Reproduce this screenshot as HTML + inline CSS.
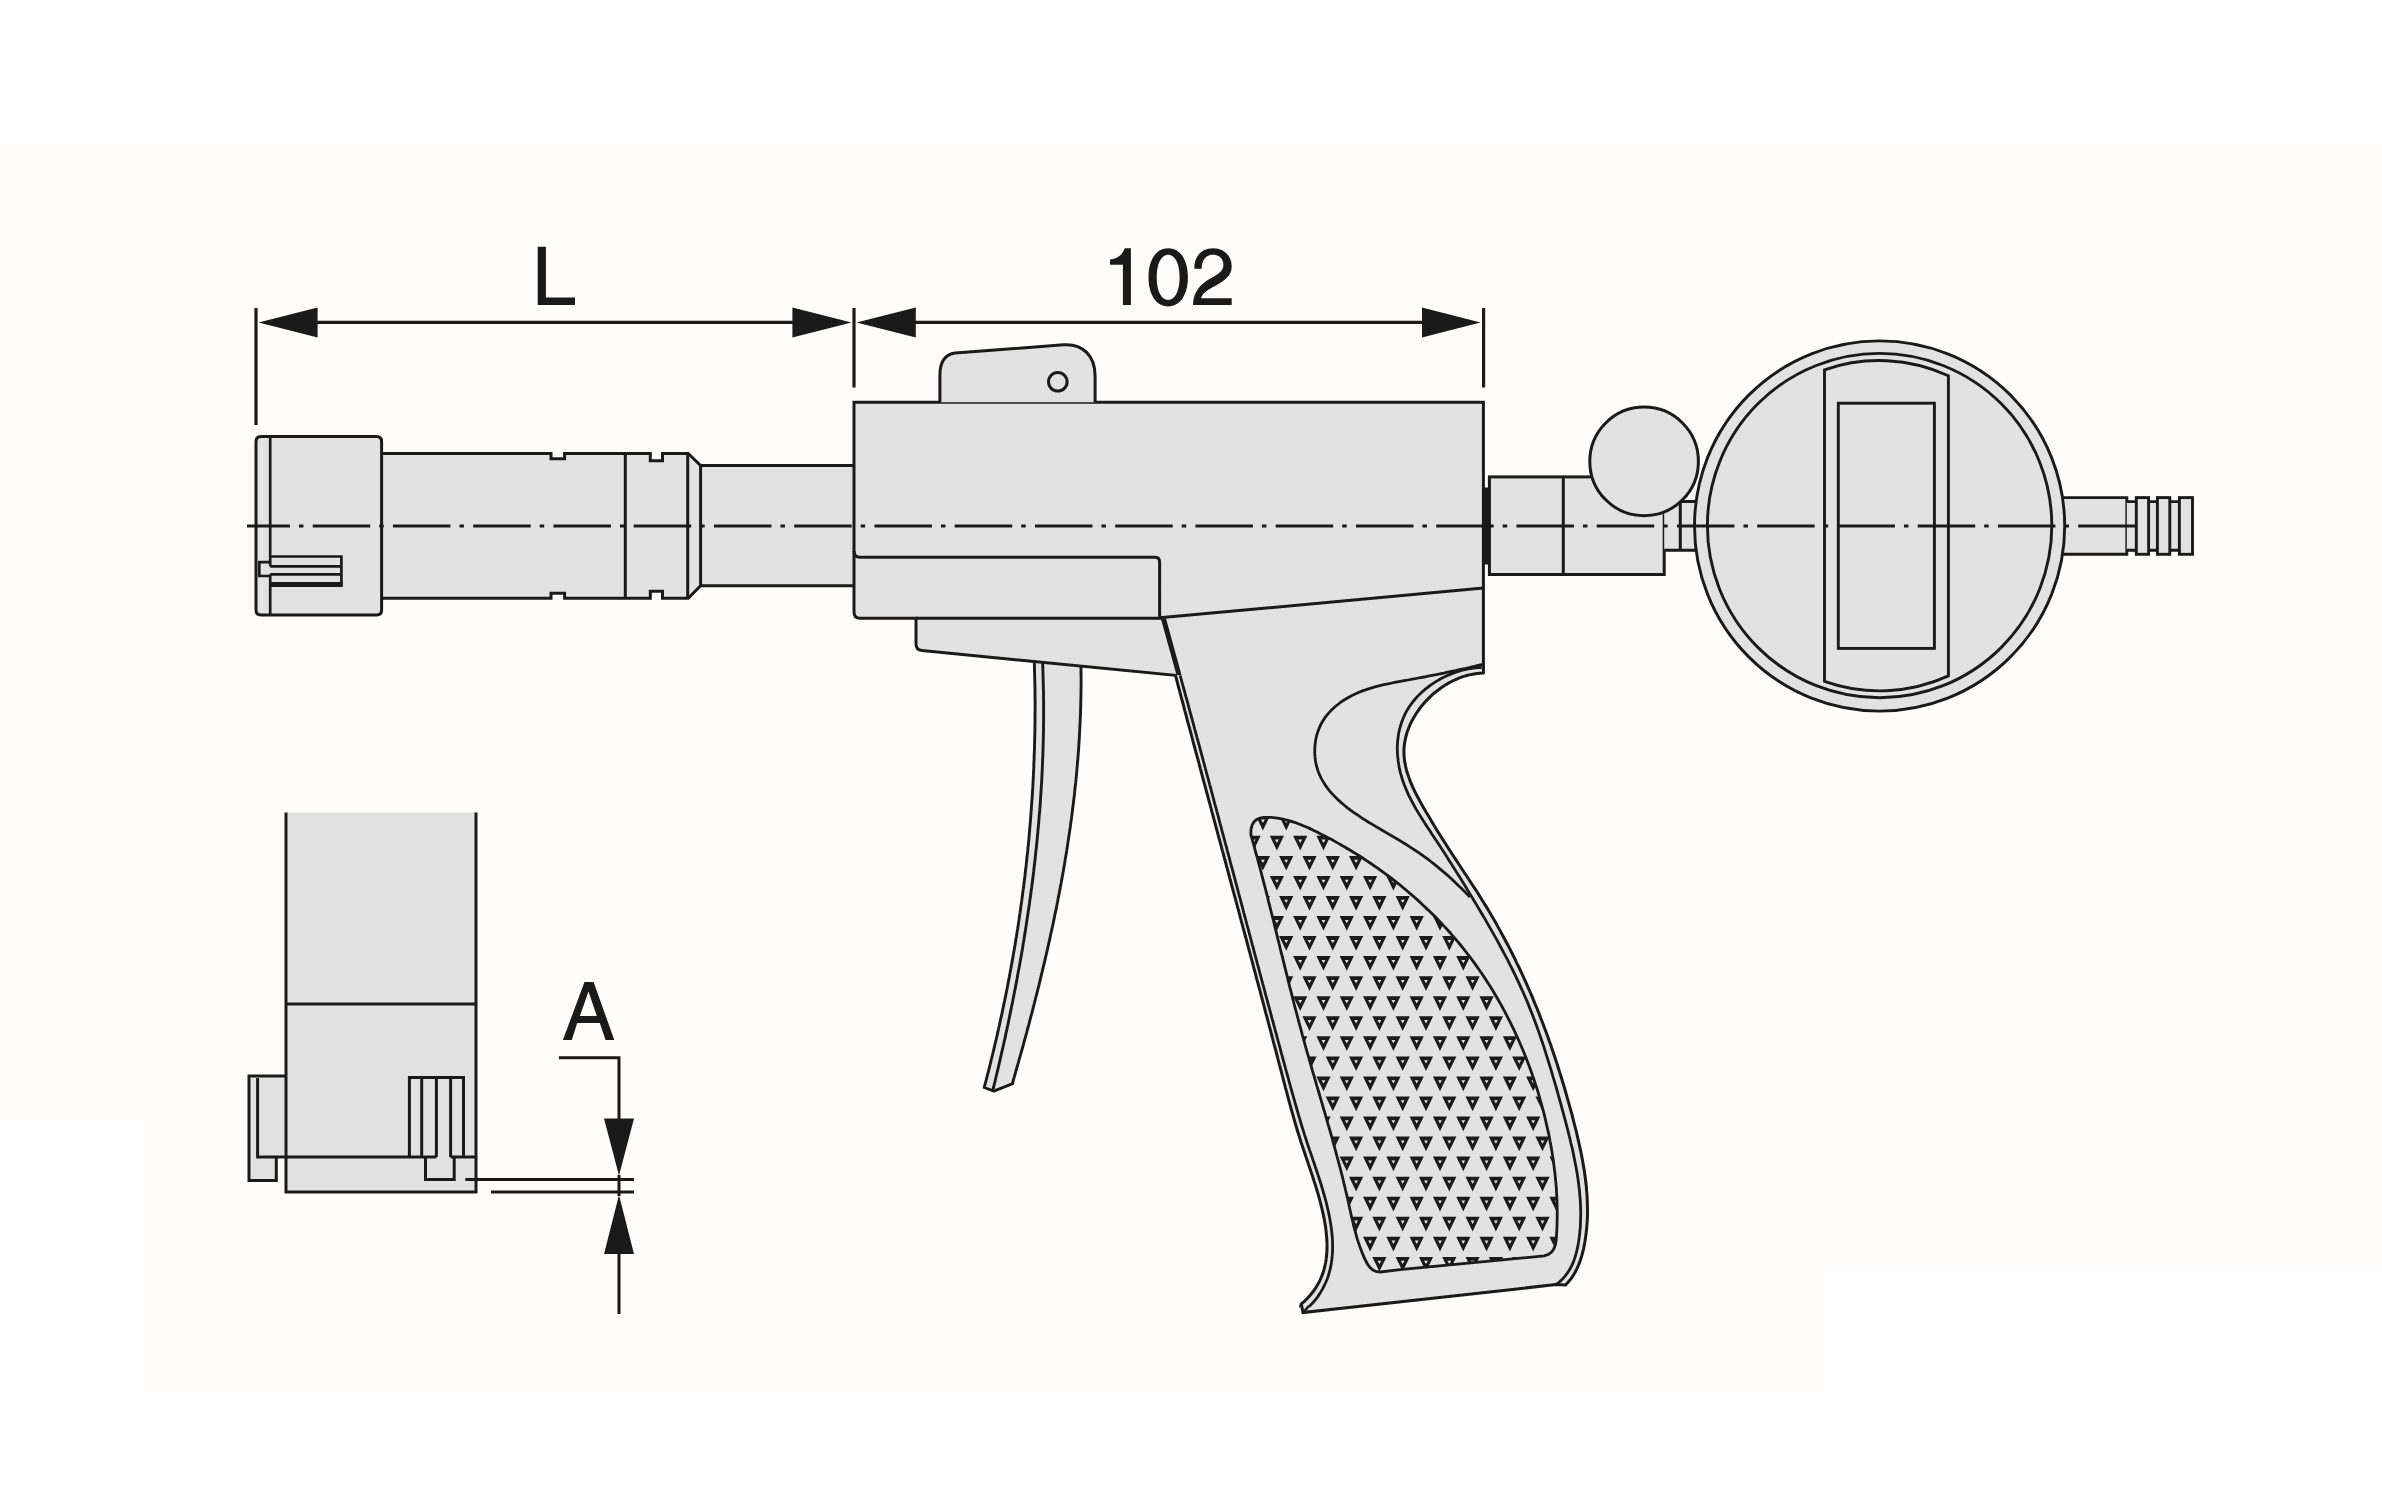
<!DOCTYPE html>
<html><head><meta charset="utf-8"><style>
html,body{margin:0;padding:0;background:#fff;overflow:hidden;font-family:"Liberation Sans",sans-serif;}
svg{display:block;}
</style></head><body><svg width="2382" height="1486" viewBox="0 0 2382 1486"><rect x="0" y="0" width="2382" height="1486" fill="#ffffff"/>
<path d="M0 145 H2382 V1265 H1824 V1392 H146 V1118 H0 Z" fill="#fefdfb"/>
<path d="M256 308 V425 M854 308 V387.5 M1483.6 308 V387.5 M300 322.4 H820 M890 322.4 H1450" stroke="#1b1a1a" stroke-width="3.2" fill="none"/>
<path d="M258.5 322.4 L317.6 307.4 L317.6 337.4 Z M851.5 322.4 L792.4 307.4 L792.4 337.4 Z M856.5 322.4 L915.8 307.4 L915.8 337.4 Z M1480.6 322.4 L1422 307.4 L1422 337.4 Z" fill="#1b1a1a"/>
<path d="M537.7 246.8 H545.9 V297.6 H575 V305 H537.7 Z M1110 259.4 C1116.5 259.4 1122 255.5 1124.8 248.2 H1130.9 V304.9 H1122.9 V264.7 H1110 Z M1168.2 248.2 C1181 248.2 1187.9 261 1187.9 277.3 C1187.9 293.6 1181 306.4 1168.2 306.4 C1155.4 306.4 1148.5 293.6 1148.5 277.3 C1148.5 261 1155.4 248.2 1168.2 248.2 Z M1168.2 254.7 C1161 254.7 1156.7 264 1156.7 277.3 C1156.7 290.6 1161 300 1168.2 300 C1175.4 300 1179.6 290.6 1179.6 277.3 C1179.6 264 1175.4 254.7 1168.2 254.7 Z M1194.3 268.8 C1194 257 1201 248.2 1213.1 248.2 C1224 248.2 1231.7 256 1231.7 266.4 C1231.7 276 1224 281 1213 287 C1206 291 1202 294 1201.1 298.2 H1231.7 V304.9 H1192.9 C1193.5 292 1200 284 1212 277.5 C1220 273 1223.4 270 1223.4 264.7 C1223.4 258.5 1219 254.7 1213.1 254.7 C1205.5 254.7 1201.7 260.5 1201.7 268.8 Z M562.9 1040 L584.5 982.1 H593.6 L614.3 1040 H605.5 L599.8 1023 H577.2 L571.8 1040 Z M588.5 991.5 L579.9 1016 H596.8 Z" fill="#1b1a1a" fill-rule="evenodd"/>
<path d="M370 453.4 H551 V458.7 H564.6 V453.4 H650.3 V460.7 H662.5 V453.4 H688.2 L700.6 465.5 H860 V585.7 H700.6 L688.2 598.2 H662.5 V591.2 H650.3 V598.2 H564.6 V593.2 H551 V598.2 H370 Z" fill="#e2e2e3" stroke="#1b1a1a" stroke-width="3"/>
<path d="M625.3 453.4 V598.2 M687.7 453.4 V598.2 M700.6 465.5 V585.7" stroke="#1b1a1a" stroke-width="3" fill="none"/>
<path d="M261 436.5 H376.6 Q381.6 436.5 381.6 441.5 V610 Q381.6 615 376.6 615 H261 Q256 615 256 610 V441.5 Q256 436.5 261 436.5 Z" fill="#e2e2e3" stroke="#1b1a1a" stroke-width="3" stroke-linejoin="round"/>
<path d="M270.2 436.5 V566.3 M270.2 574.3 V615 M270.2 556.5 H341.4 V584.5 M270.2 566.3 H341.4 M270.2 574.3 H341.4 M270.2 562.2 H259.3 V576 H270.2" stroke="#1b1a1a" stroke-width="2.7" fill="none"/>
<path d="M270.2 584.5 H342.8" stroke="#1b1a1a" stroke-width="5" fill="none"/>
<path d="M1033.6 644.9 L1033.8 649.0 L1034.0 653.1 L1034.1 657.2 L1034.3 661.2 L1034.4 665.3 L1034.5 669.4 L1034.6 673.5 L1034.7 677.5 L1034.8 681.6 L1034.9 685.7 L1035.0 689.7 L1035.0 693.8 L1035.0 697.9 L1035.1 701.9 L1035.1 706.0 L1035.1 710.1 L1035.0 714.2 L1035.0 718.2 L1035.0 722.3 L1034.9 726.4 L1034.9 730.4 L1034.8 734.5 L1034.7 738.5 L1034.6 742.6 L1034.5 746.7 L1034.4 750.7 L1034.2 754.8 L1034.1 758.9 L1033.9 762.9 L1033.8 767.0 L1033.6 771.0 L1033.4 775.1 L1033.2 779.1 L1033.0 783.2 L1032.8 787.3 L1032.5 791.3 L1032.3 795.4 L1032.0 799.4 L1031.7 803.5 L1031.4 807.5 L1031.1 811.6 L1030.8 815.6 L1030.5 819.7 L1030.2 823.7 L1029.8 827.8 L1029.5 831.8 L1029.1 835.8 L1028.8 839.9 L1028.4 843.9 L1028.0 848.0 L1027.6 852.0 L1027.1 856.0 L1026.7 860.1 L1026.3 864.1 L1025.8 868.1 L1025.3 872.2 L1024.9 876.2 L1024.4 880.2 L1023.9 884.3 L1023.4 888.3 L1022.8 892.3 L1022.3 896.3 L1021.8 900.4 L1021.2 904.4 L1020.6 908.4 L1020.1 912.4 L1019.5 916.4 L1018.9 920.5 L1018.3 924.5 L1017.7 928.5 L1017.0 932.5 L1016.4 936.5 L1015.7 940.5 L1015.1 944.5 L1014.4 948.5 L1013.7 952.5 L1013.0 956.5 L1012.3 960.5 L1011.6 964.5 L1010.9 968.5 L1010.1 972.5 L1009.4 976.5 L1008.6 980.5 L1007.8 984.5 L1007.1 988.5 L1006.3 992.5 L1005.5 996.4 L1004.7 1000.4 L1003.8 1004.4 L1003.0 1008.4 L1002.2 1012.4 L1001.3 1016.3 L1000.4 1020.3 L999.6 1024.3 L998.7 1028.3 L997.8 1032.2 L996.9 1036.2 L996.0 1040.1 L995.0 1044.1 L994.1 1048.1 L993.2 1052.0 L992.2 1056.0 L991.2 1059.9 L990.3 1063.9 L989.3 1067.8 L988.3 1071.8 L987.3 1075.7 L986.3 1079.7 L985.2 1083.6 L984.2 1087.5 L993.8 1091.1 L1012.7 1083.7 L1012.4 1083.6 L1013.5 1079.7 L1014.6 1075.8 L1015.7 1071.9 L1016.8 1068.0 L1017.9 1064.1 L1019.0 1060.2 L1020.1 1056.3 L1021.2 1052.4 L1022.3 1048.5 L1023.4 1044.6 L1024.4 1040.7 L1025.5 1036.8 L1026.6 1032.9 L1027.6 1029.0 L1028.7 1025.1 L1029.7 1021.1 L1030.7 1017.2 L1031.8 1013.3 L1032.8 1009.4 L1033.8 1005.5 L1034.8 1001.5 L1035.8 997.6 L1036.8 993.7 L1037.8 989.7 L1038.8 985.8 L1039.7 981.9 L1040.7 977.9 L1041.6 974.0 L1042.6 970.0 L1043.5 966.1 L1044.5 962.1 L1045.4 958.2 L1046.3 954.2 L1047.2 950.3 L1048.1 946.3 L1049.0 942.4 L1049.9 938.4 L1050.7 934.5 L1051.6 930.5 L1052.5 926.5 L1053.3 922.6 L1054.1 918.6 L1054.9 914.6 L1055.8 910.7 L1056.6 906.7 L1057.4 902.7 L1058.1 898.7 L1058.9 894.8 L1059.7 890.8 L1060.4 886.8 L1061.2 882.8 L1061.9 878.8 L1062.6 874.9 L1063.3 870.9 L1064.0 866.9 L1064.7 862.9 L1065.3 858.9 L1066.0 854.9 L1066.7 850.9 L1067.3 846.9 L1067.9 842.9 L1068.5 838.9 L1069.1 834.9 L1069.7 830.9 L1070.3 826.9 L1070.8 822.9 L1071.4 818.9 L1071.9 814.9 L1072.4 810.8 L1072.9 806.8 L1073.4 802.8 L1073.9 798.8 L1074.4 794.8 L1074.8 790.7 L1075.2 786.7 L1075.7 782.7 L1076.1 778.7 L1076.5 774.6 L1076.8 770.6 L1077.2 766.6 L1077.5 762.6 L1077.9 758.5 L1078.2 754.5 L1078.5 750.4 L1078.8 746.4 L1079.0 742.4 L1079.3 738.3 L1079.5 734.3 L1079.7 730.2 L1079.9 726.2 L1080.1 722.1 L1080.3 718.1 L1080.5 714.0 L1080.6 710.0 L1080.7 705.9 L1080.8 701.9 L1080.9 697.8 L1081.0 693.7 L1081.0 689.7 L1081.1 685.6 L1081.1 681.6 L1081.1 677.5 L1081.0 673.4 L1081.0 669.4 L1080.9 665.3 L1080.9 661.2 L1080.8 657.1 L1080.7 653.1 L1080.5 649.0 L1080.4 644.9 Z" fill="#e2e2e3" stroke="#1b1a1a" stroke-width="2.9" stroke-linejoin="round"/>
<path d="M1041.8 644.9 L1042.0 649.0 L1042.2 653.0 L1042.4 657.1 L1042.6 661.2 L1042.7 665.2 L1042.9 669.3 L1043.0 673.3 L1043.1 677.4 L1043.2 681.5 L1043.3 685.5 L1043.4 689.6 L1043.5 693.6 L1043.5 697.7 L1043.6 701.7 L1043.6 705.8 L1043.6 709.8 L1043.6 713.9 L1043.6 717.9 L1043.6 722.0 L1043.5 726.0 L1043.5 730.1 L1043.4 734.1 L1043.3 738.2 L1043.2 742.2 L1043.1 746.3 L1043.0 750.3 L1042.9 754.3 L1042.7 758.4 L1042.5 762.4 L1042.4 766.5 L1042.2 770.5 L1042.0 774.6 L1041.8 778.6 L1041.6 782.6 L1041.3 786.7 L1041.1 790.7 L1040.8 794.7 L1040.5 798.8 L1040.3 802.8 L1040.0 806.8 L1039.7 810.9 L1039.3 814.9 L1039.0 818.9 L1038.7 822.9 L1038.3 827.0 L1037.9 831.0 L1037.6 835.0 L1037.2 839.0 L1036.8 843.1 L1036.4 847.1 L1035.9 851.1 L1035.5 855.1 L1035.1 859.1 L1034.6 863.2 L1034.1 867.2 L1033.7 871.2 L1033.2 875.2 L1032.7 879.2 L1032.2 883.2 L1031.7 887.2 L1031.1 891.2 L1030.6 895.2 L1030.0 899.3 L1029.5 903.3 L1028.9 907.3 L1028.3 911.3 L1027.7 915.3 L1027.1 919.3 L1026.5 923.3 L1025.9 927.3 L1025.3 931.2 L1024.6 935.2 L1024.0 939.2 L1023.3 943.2 L1022.7 947.2 L1022.0 951.2 L1021.3 955.2 L1020.6 959.2 L1019.9 963.2 L1019.2 967.1 L1018.4 971.1 L1017.7 975.1 L1017.0 979.1 L1016.2 983.1 L1015.5 987.0 L1014.7 991.0 L1013.9 995.0 L1013.1 999.0 L1012.4 1002.9 L1011.5 1006.9 L1010.7 1010.9 L1009.9 1014.8 L1009.1 1018.8 L1008.3 1022.7 L1007.4 1026.7 L1006.6 1030.7 L1005.7 1034.6 L1004.9 1038.6 L1004.0 1042.5 L1003.1 1046.5 L1002.2 1050.4 L1001.3 1054.4 L1000.4 1058.3 L999.5 1062.3 L998.6 1066.2 L997.7 1070.2 L996.7 1074.1 L995.8 1078.0 L994.9 1082.0 L993.9 1085.9 L992.9 1089.8" stroke="#1b1a1a" stroke-width="2.9" fill="none"/>
<path d="M854 402.2 H1483.4 V672.9 L1483.2 673.0 L1479.3 673.2 L1475.4 673.7 L1471.5 674.4 L1467.6 675.3 L1463.8 676.4 L1460.0 677.7 L1456.2 679.3 L1452.5 681.0 L1448.9 682.9 L1445.4 685.0 L1441.9 687.3 L1438.6 689.7 L1435.3 692.2 L1432.1 694.9 L1429.1 697.8 L1426.2 700.7 L1423.5 703.8 L1420.8 707.0 L1418.4 710.3 L1416.1 713.7 L1414.0 717.2 L1412.0 720.7 L1410.2 724.3 L1408.7 728.0 L1407.3 731.7 L1406.2 735.5 L1405.3 739.3 L1404.6 743.1 L1404.1 747.0 L1403.9 750.8 L1404.0 754.7 L1404.3 758.6 L1404.8 762.4 L1405.6 766.3 L1406.5 770.1 L1407.7 774.0 L1409.0 777.8 L1410.4 781.6 L1412.0 785.3 L1413.7 789.1 L1415.5 792.8 L1417.4 796.6 L1419.4 800.2 L1421.4 803.9 L1423.4 807.5 L1425.5 811.1 L1427.6 814.6 L1429.7 818.1 L1431.7 821.6 L1433.8 825.1 L1435.9 828.5 L1438.0 831.9 L1440.1 835.3 L1442.2 838.6 L1444.4 842.0 L1446.5 845.3 L1448.6 848.6 L1450.8 852.0 L1452.9 855.3 L1455.1 858.6 L1457.3 861.9 L1459.5 865.3 L1461.7 868.6 L1463.9 872.0 L1466.2 875.3 L1468.4 878.7 L1470.6 882.1 L1472.8 885.5 L1475.1 888.9 L1477.3 892.3 L1479.5 895.8 L1481.6 899.2 L1483.8 902.7 L1485.9 906.1 L1488.0 909.6 L1490.1 913.1 L1492.1 916.6 L1494.2 920.1 L1496.2 923.6 L1498.1 927.1 L1500.1 930.6 L1502.0 934.2 L1503.9 937.7 L1505.8 941.3 L1507.7 944.8 L1509.6 948.4 L1511.4 952.0 L1513.2 955.6 L1515.0 959.2 L1516.7 962.8 L1518.5 966.4 L1520.2 970.0 L1521.9 973.7 L1523.6 977.3 L1525.2 981.0 L1526.9 984.6 L1528.5 988.3 L1530.1 992.0 L1531.7 995.7 L1533.2 999.4 L1534.7 1003.1 L1536.3 1006.8 L1537.8 1010.5 L1539.3 1014.2 L1540.7 1018.0 L1542.2 1021.7 L1543.6 1025.5 L1545.0 1029.2 L1546.4 1033.0 L1547.8 1036.8 L1549.1 1040.6 L1550.5 1044.3 L1551.8 1048.2 L1553.1 1052.0 L1554.4 1055.8 L1555.6 1059.6 L1556.9 1063.4 L1558.1 1067.3 L1559.3 1071.1 L1560.5 1075.0 L1561.7 1078.8 L1562.9 1082.7 L1564.1 1086.6 L1565.2 1090.5 L1566.3 1094.4 L1567.4 1098.3 L1568.5 1102.2 L1569.6 1106.1 L1570.7 1110.0 L1571.8 1113.9 L1572.8 1117.9 L1573.8 1121.8 L1574.8 1125.8 L1575.8 1129.7 L1576.8 1133.7 L1577.7 1137.7 L1578.6 1141.6 L1579.5 1145.6 L1580.4 1149.6 L1581.2 1153.6 L1582.0 1157.6 L1582.7 1161.6 L1583.4 1165.5 L1584.1 1169.5 L1584.7 1173.5 L1585.2 1177.5 L1585.7 1181.5 L1586.2 1185.5 L1586.5 1189.5 L1586.9 1193.5 L1587.1 1197.5 L1587.3 1201.5 L1587.4 1205.5 L1587.5 1209.5 L1587.5 1213.4 L1587.4 1217.4 L1587.2 1221.4 L1586.9 1225.4 L1586.6 1229.3 L1586.1 1233.3 L1585.6 1237.2 L1585.0 1241.2 L1584.3 1245.1 L1583.5 1249.1 L1582.5 1253.0 L1581.5 1256.8 L1580.2 1260.7 L1578.8 1264.4 L1577.2 1268.1 L1575.4 1271.7 L1573.4 1275.2 L1571.1 1278.6 L1568.5 1281.8 L1565.6 1284.9 L1555.9 1284.6 L1303 1312.6 L1301.2 1303.5 L1301.1 1304.1 L1304.6 1301.1 L1307.7 1298.0 L1310.6 1294.8 L1313.2 1291.5 L1315.6 1288.1 L1317.7 1284.6 L1319.6 1281.1 L1321.2 1277.5 L1322.6 1273.9 L1323.8 1270.2 L1324.8 1266.5 L1325.6 1262.7 L1326.2 1258.9 L1326.6 1255.0 L1326.9 1251.1 L1327.0 1247.2 L1327.0 1243.3 L1326.8 1239.4 L1326.5 1235.4 L1326.1 1231.4 L1325.6 1227.5 L1325.0 1223.5 L1324.3 1219.5 L1323.5 1215.6 L1322.6 1211.6 L1321.7 1207.7 L1320.7 1203.8 L1319.7 1199.8 L1318.6 1195.9 L1317.5 1192.0 L1316.3 1188.1 L1315.1 1184.3 L1313.8 1180.4 L1312.6 1176.5 L1311.3 1172.6 L1310.0 1168.8 L1308.7 1164.9 L1307.4 1161.0 L1306.1 1157.2 L1304.8 1153.3 L1303.5 1149.5 L1302.2 1145.6 L1300.9 1141.8 L1299.7 1137.9 L1298.5 1134.0 L1297.3 1130.2 L1296.1 1126.3 L1295.0 1122.4 L1293.9 1118.6 L1292.8 1114.7 L1291.7 1110.8 L1290.6 1106.9 L1289.6 1103.1 L1288.5 1099.2 L1287.5 1095.3 L1286.5 1091.4 L1285.4 1087.6 L1284.4 1083.7 L1283.4 1079.8 L1282.4 1075.9 L1281.4 1072.0 L1280.4 1068.2 L1279.3 1064.3 L1278.3 1060.4 L1277.3 1056.5 L1276.3 1052.6 L1275.3 1048.7 L1274.2 1044.9 L1273.2 1041.0 L1272.2 1037.1 L1271.2 1033.2 L1270.2 1029.3 L1269.1 1025.4 L1268.1 1021.5 L1267.1 1017.6 L1266.0 1013.8 L1265.0 1009.9 L1264.0 1006.0 L1263.0 1002.1 L1261.9 998.2 L1260.9 994.3 L1259.9 990.4 L1258.8 986.5 L1257.8 982.7 L1256.7 978.8 L1255.7 974.9 L1254.7 971.0 L1253.6 967.1 L1252.6 963.2 L1251.6 959.3 L1250.5 955.4 L1249.5 951.5 L1248.4 947.6 L1247.4 943.7 L1246.4 939.9 L1245.3 936.0 L1244.3 932.1 L1243.2 928.2 L1242.2 924.3 L1241.1 920.4 L1240.1 916.5 L1239.1 912.6 L1238.0 908.7 L1237.0 904.8 L1235.9 900.9 L1234.9 897.0 L1233.8 893.1 L1232.8 889.3 L1231.7 885.4 L1230.7 881.5 L1229.6 877.6 L1228.6 873.7 L1227.6 869.8 L1226.5 865.9 L1225.5 862.0 L1224.4 858.1 L1223.4 854.2 L1222.3 850.3 L1221.3 846.4 L1220.2 842.5 L1219.2 838.7 L1218.1 834.8 L1217.1 830.9 L1216.0 827.0 L1215.0 823.1 L1213.9 819.2 L1212.9 815.3 L1211.8 811.4 L1210.8 807.5 L1209.8 803.6 L1208.7 799.7 L1207.7 795.8 L1206.6 792.0 L1205.6 788.1 L1204.5 784.2 L1203.5 780.3 L1202.4 776.4 L1201.4 772.5 L1200.3 768.6 L1199.3 764.7 L1198.3 760.8 L1197.2 756.9 L1196.2 753.1 L1195.1 749.2 L1194.1 745.3 L1193.0 741.4 L1192.0 737.5 L1191.0 733.6 L1189.9 729.7 L1188.9 725.8 L1187.8 722.0 L1186.8 718.1 L1185.8 714.2 L1184.7 710.3 L1183.7 706.4 L1182.7 702.5 L1181.6 698.6 L1180.6 694.8 L1179.6 690.9 L1178.5 687.0 L1177.5 683.1 L1176.5 679.2 L1175.4 675.3 L922 650.5 Q916 650 916 644 V618.3 H860 Q854 618.3 854 612 Z" fill="#e2e2e3" stroke="#1b1a1a" stroke-width="3" stroke-linejoin="miter" stroke-miterlimit="3"/>
<path d="M854 551 Q854 557.2 860 557.2 H1155 Q1159.6 557.2 1159.6 562 V618.3 M916 618.3 H1161 M1159.6 617.8 L1483.4 588" stroke="#1b1a1a" stroke-width="3" fill="none"/>
<path d="M1160.8 618.5 L1166 618.5 L1181.5 675 L1176.5 675 Z" fill="#1b1a1a"/>
<path d="M1180.1 675.4 L1181.2 679.3 L1182.2 683.1 L1183.3 687.0 L1184.4 690.9 L1185.4 694.8 L1186.5 698.7 L1187.6 702.6 L1188.6 706.4 L1189.7 710.3 L1190.7 714.2 L1191.8 718.1 L1192.8 722.0 L1193.9 725.9 L1194.9 729.8 L1196.0 733.7 L1197.0 737.6 L1198.1 741.4 L1199.2 745.3 L1200.2 749.2 L1201.3 753.1 L1202.3 757.0 L1203.3 760.9 L1204.4 764.8 L1205.4 768.7 L1206.5 772.6 L1207.5 776.5 L1208.6 780.4 L1209.6 784.3 L1210.7 788.2 L1211.7 792.1 L1212.8 796.0 L1213.8 799.9 L1214.8 803.8 L1215.9 807.7 L1216.9 811.6 L1218.0 815.5 L1219.0 819.4 L1220.0 823.3 L1221.1 827.2 L1222.1 831.1 L1223.2 835.0 L1224.2 838.9 L1225.2 842.8 L1226.3 846.7 L1227.3 850.6 L1228.4 854.5 L1229.4 858.4 L1230.4 862.4 L1231.5 866.3 L1232.5 870.2 L1233.6 874.1 L1234.6 878.0 L1235.6 881.9 L1236.7 885.8 L1237.7 889.7 L1238.7 893.6 L1239.8 897.5 L1240.8 901.4 L1241.9 905.3 L1242.9 909.2 L1243.9 913.1 L1245.0 917.0 L1246.0 920.9 L1247.0 924.8 L1248.1 928.7 L1249.1 932.6 L1250.2 936.5 L1251.2 940.4 L1252.2 944.3 L1253.3 948.2 L1254.3 952.1 L1255.3 956.0 L1256.4 959.9 L1257.4 963.8 L1258.5 967.7 L1259.5 971.6 L1260.5 975.5 L1261.6 979.4 L1262.6 983.3 L1263.7 987.2 L1264.7 991.1 L1265.7 995.0 L1266.8 998.9 L1267.8 1002.7 L1268.9 1006.6 L1269.9 1010.5 L1271.0 1014.4 L1272.0 1018.3 L1273.1 1022.2 L1274.1 1026.1 L1275.1 1030.0 L1276.2 1033.8 L1277.2 1037.7 L1278.3 1041.6 L1279.3 1045.5 L1280.4 1049.4 L1281.4 1053.3 L1282.5 1057.1 L1283.5 1061.0 L1284.6 1064.9 L1285.6 1068.8 L1286.7 1072.6 L1287.8 1076.5 L1288.8 1080.4 L1289.9 1084.3 L1290.9 1088.1 L1292.0 1092.0 L1293.1 1095.9 L1294.2 1099.7 L1295.3 1103.6 L1296.4 1107.5 L1297.5 1111.3 L1298.6 1115.2 L1299.8 1119.1 L1300.9 1123.0 L1302.1 1126.8 L1303.3 1130.7 L1304.5 1134.6 L1305.8 1138.5 L1307.0 1142.3 L1308.3 1146.2 L1309.6 1150.1 L1311.0 1154.0 L1312.3 1157.9 L1313.6 1161.8 L1314.9 1165.7 L1316.2 1169.5 L1317.5 1173.4 L1318.8 1177.3 L1320.1 1181.3 L1321.3 1185.2 L1322.5 1189.1 L1323.6 1193.0 L1324.7 1196.9 L1325.8 1200.8 L1326.8 1204.7 L1327.7 1208.7 L1328.6 1212.6 L1329.4 1216.5 L1330.1 1220.5 L1330.8 1224.4 L1331.3 1228.4 L1331.8 1232.3 L1332.2 1236.3 L1332.5 1240.2 L1332.6 1244.1 L1332.6 1248.1 L1332.5 1252.0 L1332.2 1255.9 L1331.8 1259.7 L1331.3 1263.6 L1330.6 1267.4 L1329.6 1271.2 L1328.6 1275.0 L1327.3 1278.7 L1325.8 1282.3 L1324.1 1286.0 L1322.2 1289.6 L1320.1 1293.1 L1317.8 1296.6 L1315.2 1300.0 L1312.3 1303.3 L1309.2 1306.6" stroke="#1b1a1a" stroke-width="2.8" fill="none"/>
<path d="M1481.6 667.5 L1477.8 667.6 L1474.0 668.0 L1470.1 668.5 L1466.2 669.3 L1462.3 670.2 L1458.4 671.3 L1454.5 672.6 L1450.7 674.1 L1446.9 675.7 L1443.1 677.5 L1439.5 679.5 L1435.9 681.6 L1432.4 683.9 L1428.9 686.3 L1425.7 688.9 L1422.5 691.6 L1419.5 694.4 L1416.6 697.4 L1414.0 700.5 L1411.5 703.7 L1409.1 707.0 L1407.0 710.4 L1405.1 713.9 L1403.5 717.5 L1402.0 721.2 L1400.8 724.9 L1399.7 728.8 L1398.8 732.6 L1398.2 736.6 L1397.7 740.5 L1397.4 744.5 L1397.3 748.5 L1397.4 752.5 L1397.7 756.5 L1398.1 760.5 L1398.7 764.4 L1399.4 768.4 L1400.3 772.3 L1401.4 776.1 L1402.5 779.9 L1403.9 783.7 L1405.3 787.4 L1406.9 791.1 L1408.5 794.8 L1410.3 798.4 L1412.2 802.0 L1414.1 805.5 L1416.1 809.1 L1418.2 812.6 L1420.3 816.1 L1422.5 819.5 L1424.7 823.0 L1426.9 826.4 L1429.2 829.8 L1431.4 833.3 L1433.7 836.7 L1435.9 840.1 L1438.2 843.5 L1440.4 846.8 L1442.6 850.2 L1444.8 853.6 L1447.0 857.0 L1449.1 860.4 L1451.3 863.8 L1453.4 867.2 L1455.5 870.6 L1457.7 874.0 L1459.8 877.3 L1461.9 880.7 L1464.0 884.1 L1466.1 887.5 L1468.1 890.9 L1470.2 894.4 L1472.3 897.8 L1474.4 901.2 L1476.4 904.6 L1478.5 908.1 L1480.5 911.5 L1482.6 915.0 L1484.6 918.4 L1486.6 921.9 L1488.6 925.4 L1490.6 928.9 L1492.6 932.4 L1494.6 935.9 L1496.6 939.4 L1498.5 942.9 L1500.4 946.5 L1502.3 950.0 L1504.2 953.6 L1506.1 957.1 L1508.0 960.7 L1509.8 964.3 L1511.6 967.9 L1513.4 971.5 L1515.2 975.1 L1516.9 978.8 L1518.6 982.4 L1520.3 986.1 L1522.0 989.8 L1523.7 993.5 L1525.3 997.2 L1526.9 1000.9 L1528.4 1004.6 L1529.9 1008.4 L1531.4 1012.1 L1532.9 1015.9 L1534.3 1019.7 L1535.7 1023.5 L1537.1 1027.3 L1538.5 1031.1 L1539.8 1034.9 L1541.1 1038.7 L1542.4 1042.5 L1543.7 1046.4 L1544.9 1050.2 L1546.1 1054.1 L1547.3 1057.9 L1548.5 1061.7 L1549.7 1065.6 L1550.9 1069.4 L1552.0 1073.2 L1553.1 1077.1 L1554.3 1080.9 L1555.4 1084.7 L1556.5 1088.5 L1557.6 1092.4 L1558.6 1096.2 L1559.7 1100.0 L1560.8 1103.9 L1561.8 1107.7 L1562.9 1111.6 L1563.9 1115.5 L1565.0 1119.4 L1566.0 1123.3 L1567.0 1127.2 L1568.0 1131.1 L1569.0 1135.1 L1570.0 1139.0 L1570.9 1143.0 L1571.9 1147.0 L1572.8 1150.9 L1573.6 1154.9 L1574.4 1158.9 L1575.2 1162.9 L1576.0 1166.9 L1576.7 1170.9 L1577.4 1175.0 L1578.0 1179.0 L1578.5 1183.0 L1579.0 1187.0 L1579.5 1191.0 L1579.8 1195.1 L1580.2 1199.1 L1580.4 1203.1 L1580.6 1207.1 L1580.7 1211.1 L1580.7 1215.1 L1580.6 1219.1 L1580.5 1223.1 L1580.3 1227.1 L1579.9 1231.1 L1579.5 1235.1 L1579.0 1239.0 L1578.4 1243.0 L1577.7 1246.9 L1576.8 1250.8 L1575.8 1254.7 L1574.6 1258.5 L1573.3 1262.2 L1571.6 1265.8 L1569.8 1269.3 L1567.6 1272.7 L1565.2 1275.9 L1562.5 1279.0 L1559.4 1282.0 L1556.0 1284.7" stroke="#1b1a1a" stroke-width="2.8" fill="none"/>
<path d="M1303 1312.6 L1309.1 1305.9" stroke="#1b1a1a" stroke-width="2.5" fill="none"/>
<path d="M1483.2 664.3 L1479.2 665.2 L1475.2 666.2 L1471.2 667.1 L1467.3 668.0 L1463.3 668.9 L1459.4 669.7 L1455.5 670.6 L1451.6 671.4 L1447.7 672.2 L1443.8 673.1 L1439.9 673.9 L1436.0 674.7 L1432.0 675.4 L1428.1 676.2 L1424.2 677.0 L1420.2 677.7 L1416.2 678.5 L1412.3 679.2 L1408.2 680.0 L1404.2 680.7 L1400.1 681.4 L1396.1 682.2 L1392.0 683.0 L1387.9 683.8 L1383.8 684.7 L1379.8 685.7 L1375.7 686.7 L1371.7 687.8 L1367.8 689.1 L1363.9 690.4 L1360.0 691.9 L1356.2 693.5 L1352.5 695.3 L1348.8 697.2 L1345.3 699.3 L1341.8 701.5 L1338.5 704.0 L1335.3 706.5 L1332.3 709.3 L1329.5 712.1 L1326.9 715.2 L1324.5 718.4 L1322.4 721.7 L1320.5 725.2 L1318.9 728.9 L1317.5 732.6 L1316.4 736.5 L1315.6 740.4 L1315.1 744.4 L1314.8 748.4 L1314.7 752.5 L1315.0 756.4 L1315.4 760.4 L1316.1 764.2 L1317.1 768.0 L1318.3 771.7 L1319.7 775.2 L1321.4 778.6 L1323.3 781.9 L1325.3 785.1 L1327.6 788.3 L1330.0 791.3 L1332.6 794.3 L1335.3 797.1 L1338.2 799.9 L1341.2 802.6 L1344.3 805.2 L1347.5 807.8 L1350.8 810.3 L1354.3 812.8 L1357.8 815.2 L1361.3 817.6 L1364.9 819.9 L1368.6 822.2 L1372.3 824.4 L1376.0 826.6 L1379.7 828.8 L1383.4 831.0 L1387.1 833.1 L1390.7 835.3 L1394.4 837.4 L1398.0 839.5 L1401.5 841.6 L1405.0 843.8 L1408.4 845.9 L1411.7 848.1 L1415.0 850.2 L1418.3 852.4 L1421.5 854.7 L1424.6 856.9 L1427.8 859.2 L1430.8 861.5 L1433.9 863.9 L1436.9 866.3 L1439.9 868.8 L1442.9 871.3 L1445.9 873.9 L1448.9 876.5 L1451.9 879.2 L1454.8 882.0 L1457.8 884.9 L1460.8 887.8 L1463.8 890.8 L1466.8 893.9 L1469.9 897.1" stroke="#1b1a1a" stroke-width="2.8" fill="none"/>
<defs><clipPath id="tc"><path d="M1250.9 834.8 L1251.0 829.2 L1252.2 824.9 L1254.1 821.7 L1256.8 819.5 L1260.0 818.2 L1263.6 817.5 L1267.4 817.3 L1271.3 817.4 L1275.2 817.8 L1279.1 818.3 L1282.9 819.1 L1286.8 820.0 L1290.6 821.1 L1294.4 822.3 L1298.3 823.7 L1302.0 825.2 L1305.8 826.8 L1309.6 828.4 L1313.3 830.2 L1317.0 832.0 L1320.7 833.9 L1324.4 835.8 L1328.0 837.7 L1331.7 839.6 L1335.3 841.6 L1338.9 843.6 L1342.4 845.7 L1346.0 847.7 L1349.5 849.8 L1353.0 852.0 L1356.5 854.1 L1359.9 856.3 L1363.4 858.5 L1366.8 860.8 L1370.2 863.0 L1373.5 865.3 L1376.9 867.6 L1380.2 870.0 L1383.5 872.4 L1386.8 874.8 L1390.0 877.2 L1393.2 879.7 L1396.4 882.2 L1399.6 884.7 L1402.7 887.3 L1405.8 889.8 L1408.9 892.5 L1412.0 895.1 L1415.0 897.7 L1418.0 900.4 L1421.0 903.2 L1423.9 905.9 L1426.9 908.7 L1429.8 911.5 L1432.6 914.3 L1435.5 917.1 L1438.3 920.0 L1441.1 922.9 L1443.8 925.9 L1446.5 928.8 L1449.2 931.8 L1451.9 934.8 L1454.5 937.9 L1457.1 940.9 L1459.7 944.0 L1462.2 947.1 L1464.8 950.3 L1467.2 953.5 L1469.7 956.7 L1472.1 959.9 L1474.5 963.1 L1476.8 966.4 L1479.1 969.7 L1481.4 973.0 L1483.7 976.4 L1485.9 979.8 L1488.1 983.2 L1490.3 986.6 L1492.4 990.0 L1494.5 993.5 L1496.5 997.0 L1498.6 1000.5 L1500.6 1004.0 L1502.5 1007.5 L1504.5 1011.1 L1506.3 1014.7 L1508.2 1018.3 L1510.0 1021.9 L1511.8 1025.6 L1513.6 1029.2 L1515.3 1032.9 L1517.0 1036.6 L1518.7 1040.3 L1520.3 1044.0 L1521.9 1047.8 L1523.5 1051.5 L1525.0 1055.3 L1526.5 1059.1 L1528.0 1062.9 L1529.4 1066.7 L1530.8 1070.5 L1532.2 1074.4 L1533.5 1078.2 L1534.8 1082.1 L1536.0 1085.9 L1537.3 1089.8 L1538.5 1093.7 L1539.6 1097.6 L1540.7 1101.5 L1541.8 1105.5 L1542.9 1109.4 L1543.9 1113.3 L1544.9 1117.3 L1545.8 1121.2 L1546.7 1125.2 L1547.6 1129.1 L1548.5 1133.1 L1549.3 1137.1 L1550.0 1141.1 L1550.8 1145.1 L1551.5 1149.1 L1552.2 1153.1 L1552.8 1157.1 L1553.4 1161.1 L1553.9 1165.1 L1554.4 1169.1 L1554.9 1173.1 L1555.3 1177.1 L1555.7 1181.1 L1556.1 1185.2 L1556.4 1189.2 L1556.6 1193.2 L1556.8 1197.2 L1557.0 1201.3 L1557.1 1205.3 L1557.2 1209.3 L1557.2 1213.4 L1557.2 1217.4 L1557.1 1221.4 L1557.0 1225.5 L1556.9 1229.5 L1556.6 1233.5 L1556.4 1237.5 L1556.0 1241.5 L1555.2 1245.3 L1553.9 1248.8 L1551.8 1251.8 L1548.7 1254.2 L1544.3 1255.9 L1400 1269.6 L1380.5 1272 L1375.8 1271.5 L1372.3 1269.6 L1369.6 1267.0 L1367.4 1263.9 L1365.6 1260.5 L1363.9 1256.9 L1362.4 1253.3 L1360.9 1249.6 L1359.6 1245.9 L1358.3 1242.1 L1357.1 1238.3 L1356.0 1234.4 L1355.0 1230.5 L1353.9 1226.6 L1353.0 1222.7 L1352.0 1218.7 L1351.1 1214.7 L1350.2 1210.7 L1349.3 1206.7 L1348.5 1202.8 L1347.6 1198.8 L1346.7 1194.8 L1345.7 1190.8 L1344.8 1186.8 L1343.8 1182.9 L1342.9 1178.9 L1341.9 1174.9 L1340.9 1171.0 L1339.9 1167.1 L1338.8 1163.1 L1337.8 1159.2 L1336.7 1155.3 L1335.7 1151.4 L1334.6 1147.4 L1333.5 1143.5 L1332.5 1139.6 L1331.4 1135.7 L1330.3 1131.8 L1329.2 1128.0 L1328.0 1124.1 L1326.9 1120.2 L1325.8 1116.3 L1324.7 1112.4 L1323.5 1108.5 L1322.4 1104.6 L1321.3 1100.8 L1320.1 1096.9 L1319.0 1093.0 L1317.9 1089.1 L1316.7 1085.3 L1315.6 1081.4 L1314.5 1077.5 L1313.3 1073.6 L1312.2 1069.8 L1311.1 1065.9 L1310.0 1062.0 L1308.9 1058.1 L1307.7 1054.2 L1306.6 1050.4 L1305.5 1046.5 L1304.5 1042.6 L1303.4 1038.7 L1302.3 1034.8 L1301.3 1030.9 L1300.2 1027.0 L1299.2 1023.1 L1298.1 1019.2 L1297.1 1015.2 L1296.1 1011.3 L1295.0 1007.4 L1294.0 1003.5 L1293.0 999.6 L1292.0 995.6 L1291.0 991.7 L1290.0 987.8 L1289.0 983.9 L1288.0 979.9 L1287.1 976.0 L1286.1 972.1 L1285.1 968.1 L1284.1 964.2 L1283.2 960.3 L1282.2 956.3 L1281.2 952.4 L1280.2 948.5 L1279.3 944.5 L1278.3 940.6 L1277.3 936.6 L1276.4 932.7 L1275.4 928.8 L1274.4 924.8 L1273.5 920.9 L1272.5 917.0 L1271.5 913.0 L1270.5 909.1 L1269.5 905.2 L1268.5 901.3 L1267.6 897.3 L1266.6 893.4 L1265.6 889.5 L1264.6 885.6 L1263.5 881.6 L1262.5 877.7 L1261.5 873.8 L1260.5 869.9 L1259.4 866.0 L1258.4 862.1 L1257.4 858.2 L1256.3 854.3 L1255.2 850.4 L1254.2 846.5 L1253.1 842.6 L1252.0 838.7 L1250.9 834.8 Z"/></clipPath></defs>
<g clip-path="url(#tc)"><path d="M1232.5 815.8h14.2l-7.1 14.7zM1237.7 819.6l1.9 3.3l1.9 -3.3zM1255.8 815.8h14.2l-7.1 14.7zM1261.0 819.6l1.9 3.3l1.9 -3.3zM1279.1 815.8h14.2l-7.1 14.7zM1284.3 819.6l1.9 3.3l1.9 -3.3zM1302.4 815.8h14.2l-7.1 14.7zM1307.6 819.6l1.9 3.3l1.9 -3.3zM1325.7 815.8h14.2l-7.1 14.7zM1330.9 819.6l1.9 3.3l1.9 -3.3zM1349.0 815.8h14.2l-7.1 14.7zM1354.2 819.6l1.9 3.3l1.9 -3.3zM1372.3 815.8h14.2l-7.1 14.7zM1377.5 819.6l1.9 3.3l1.9 -3.3zM1395.6 815.8h14.2l-7.1 14.7zM1400.8 819.6l1.9 3.3l1.9 -3.3zM1418.9 815.8h14.2l-7.1 14.7zM1424.1 819.6l1.9 3.3l1.9 -3.3zM1442.2 815.8h14.2l-7.1 14.7zM1447.4 819.6l1.9 3.3l1.9 -3.3zM1465.5 815.8h14.2l-7.1 14.7zM1470.7 819.6l1.9 3.3l1.9 -3.3zM1488.8 815.8h14.2l-7.1 14.7zM1494.0 819.6l1.9 3.3l1.9 -3.3zM1512.1 815.8h14.2l-7.1 14.7zM1517.3 819.6l1.9 3.3l1.9 -3.3zM1535.4 815.8h14.2l-7.1 14.7zM1540.6 819.6l1.9 3.3l1.9 -3.3zM1558.7 815.8h14.2l-7.1 14.7zM1563.9 819.6l1.9 3.3l1.9 -3.3zM1246.5 835.8h14.2l-7.1 14.7zM1251.7 839.6l1.9 3.3l1.9 -3.3zM1269.8 835.8h14.2l-7.1 14.7zM1275.0 839.6l1.9 3.3l1.9 -3.3zM1293.1 835.8h14.2l-7.1 14.7zM1298.3 839.6l1.9 3.3l1.9 -3.3zM1316.4 835.8h14.2l-7.1 14.7zM1321.6 839.6l1.9 3.3l1.9 -3.3zM1339.7 835.8h14.2l-7.1 14.7zM1344.9 839.6l1.9 3.3l1.9 -3.3zM1363.0 835.8h14.2l-7.1 14.7zM1368.2 839.6l1.9 3.3l1.9 -3.3zM1386.3 835.8h14.2l-7.1 14.7zM1391.5 839.6l1.9 3.3l1.9 -3.3zM1409.6 835.8h14.2l-7.1 14.7zM1414.8 839.6l1.9 3.3l1.9 -3.3zM1432.9 835.8h14.2l-7.1 14.7zM1438.1 839.6l1.9 3.3l1.9 -3.3zM1456.2 835.8h14.2l-7.1 14.7zM1461.4 839.6l1.9 3.3l1.9 -3.3zM1479.5 835.8h14.2l-7.1 14.7zM1484.7 839.6l1.9 3.3l1.9 -3.3zM1502.8 835.8h14.2l-7.1 14.7zM1508.0 839.6l1.9 3.3l1.9 -3.3zM1526.1 835.8h14.2l-7.1 14.7zM1531.3 839.6l1.9 3.3l1.9 -3.3zM1549.4 835.8h14.2l-7.1 14.7zM1554.6 839.6l1.9 3.3l1.9 -3.3zM1232.5 855.9h14.2l-7.1 14.7zM1237.7 859.7l1.9 3.3l1.9 -3.3zM1255.8 855.9h14.2l-7.1 14.7zM1261.0 859.7l1.9 3.3l1.9 -3.3zM1279.1 855.9h14.2l-7.1 14.7zM1284.3 859.7l1.9 3.3l1.9 -3.3zM1302.4 855.9h14.2l-7.1 14.7zM1307.6 859.7l1.9 3.3l1.9 -3.3zM1325.7 855.9h14.2l-7.1 14.7zM1330.9 859.7l1.9 3.3l1.9 -3.3zM1349.0 855.9h14.2l-7.1 14.7zM1354.2 859.7l1.9 3.3l1.9 -3.3zM1372.3 855.9h14.2l-7.1 14.7zM1377.5 859.7l1.9 3.3l1.9 -3.3zM1395.6 855.9h14.2l-7.1 14.7zM1400.8 859.7l1.9 3.3l1.9 -3.3zM1418.9 855.9h14.2l-7.1 14.7zM1424.1 859.7l1.9 3.3l1.9 -3.3zM1442.2 855.9h14.2l-7.1 14.7zM1447.4 859.7l1.9 3.3l1.9 -3.3zM1465.5 855.9h14.2l-7.1 14.7zM1470.7 859.7l1.9 3.3l1.9 -3.3zM1488.8 855.9h14.2l-7.1 14.7zM1494.0 859.7l1.9 3.3l1.9 -3.3zM1512.1 855.9h14.2l-7.1 14.7zM1517.3 859.7l1.9 3.3l1.9 -3.3zM1535.4 855.9h14.2l-7.1 14.7zM1540.6 859.7l1.9 3.3l1.9 -3.3zM1558.7 855.9h14.2l-7.1 14.7zM1563.9 859.7l1.9 3.3l1.9 -3.3zM1246.5 875.9h14.2l-7.1 14.7zM1251.7 879.8l1.9 3.3l1.9 -3.3zM1269.8 875.9h14.2l-7.1 14.7zM1275.0 879.8l1.9 3.3l1.9 -3.3zM1293.1 875.9h14.2l-7.1 14.7zM1298.3 879.8l1.9 3.3l1.9 -3.3zM1316.4 875.9h14.2l-7.1 14.7zM1321.6 879.8l1.9 3.3l1.9 -3.3zM1339.7 875.9h14.2l-7.1 14.7zM1344.9 879.8l1.9 3.3l1.9 -3.3zM1363.0 875.9h14.2l-7.1 14.7zM1368.2 879.8l1.9 3.3l1.9 -3.3zM1386.3 875.9h14.2l-7.1 14.7zM1391.5 879.8l1.9 3.3l1.9 -3.3zM1409.6 875.9h14.2l-7.1 14.7zM1414.8 879.8l1.9 3.3l1.9 -3.3zM1432.9 875.9h14.2l-7.1 14.7zM1438.1 879.8l1.9 3.3l1.9 -3.3zM1456.2 875.9h14.2l-7.1 14.7zM1461.4 879.8l1.9 3.3l1.9 -3.3zM1479.5 875.9h14.2l-7.1 14.7zM1484.7 879.8l1.9 3.3l1.9 -3.3zM1502.8 875.9h14.2l-7.1 14.7zM1508.0 879.8l1.9 3.3l1.9 -3.3zM1526.1 875.9h14.2l-7.1 14.7zM1531.3 879.8l1.9 3.3l1.9 -3.3zM1549.4 875.9h14.2l-7.1 14.7zM1554.6 879.8l1.9 3.3l1.9 -3.3zM1232.5 896.0h14.2l-7.1 14.7zM1237.7 899.8l1.9 3.3l1.9 -3.3zM1255.8 896.0h14.2l-7.1 14.7zM1261.0 899.8l1.9 3.3l1.9 -3.3zM1279.1 896.0h14.2l-7.1 14.7zM1284.3 899.8l1.9 3.3l1.9 -3.3zM1302.4 896.0h14.2l-7.1 14.7zM1307.6 899.8l1.9 3.3l1.9 -3.3zM1325.7 896.0h14.2l-7.1 14.7zM1330.9 899.8l1.9 3.3l1.9 -3.3zM1349.0 896.0h14.2l-7.1 14.7zM1354.2 899.8l1.9 3.3l1.9 -3.3zM1372.3 896.0h14.2l-7.1 14.7zM1377.5 899.8l1.9 3.3l1.9 -3.3zM1395.6 896.0h14.2l-7.1 14.7zM1400.8 899.8l1.9 3.3l1.9 -3.3zM1418.9 896.0h14.2l-7.1 14.7zM1424.1 899.8l1.9 3.3l1.9 -3.3zM1442.2 896.0h14.2l-7.1 14.7zM1447.4 899.8l1.9 3.3l1.9 -3.3zM1465.5 896.0h14.2l-7.1 14.7zM1470.7 899.8l1.9 3.3l1.9 -3.3zM1488.8 896.0h14.2l-7.1 14.7zM1494.0 899.8l1.9 3.3l1.9 -3.3zM1512.1 896.0h14.2l-7.1 14.7zM1517.3 899.8l1.9 3.3l1.9 -3.3zM1535.4 896.0h14.2l-7.1 14.7zM1540.6 899.8l1.9 3.3l1.9 -3.3zM1558.7 896.0h14.2l-7.1 14.7zM1563.9 899.8l1.9 3.3l1.9 -3.3zM1246.5 916.0h14.2l-7.1 14.7zM1251.7 919.9l1.9 3.3l1.9 -3.3zM1269.8 916.0h14.2l-7.1 14.7zM1275.0 919.9l1.9 3.3l1.9 -3.3zM1293.1 916.0h14.2l-7.1 14.7zM1298.3 919.9l1.9 3.3l1.9 -3.3zM1316.4 916.0h14.2l-7.1 14.7zM1321.6 919.9l1.9 3.3l1.9 -3.3zM1339.7 916.0h14.2l-7.1 14.7zM1344.9 919.9l1.9 3.3l1.9 -3.3zM1363.0 916.0h14.2l-7.1 14.7zM1368.2 919.9l1.9 3.3l1.9 -3.3zM1386.3 916.0h14.2l-7.1 14.7zM1391.5 919.9l1.9 3.3l1.9 -3.3zM1409.6 916.0h14.2l-7.1 14.7zM1414.8 919.9l1.9 3.3l1.9 -3.3zM1432.9 916.0h14.2l-7.1 14.7zM1438.1 919.9l1.9 3.3l1.9 -3.3zM1456.2 916.0h14.2l-7.1 14.7zM1461.4 919.9l1.9 3.3l1.9 -3.3zM1479.5 916.0h14.2l-7.1 14.7zM1484.7 919.9l1.9 3.3l1.9 -3.3zM1502.8 916.0h14.2l-7.1 14.7zM1508.0 919.9l1.9 3.3l1.9 -3.3zM1526.1 916.0h14.2l-7.1 14.7zM1531.3 919.9l1.9 3.3l1.9 -3.3zM1549.4 916.0h14.2l-7.1 14.7zM1554.6 919.9l1.9 3.3l1.9 -3.3zM1232.5 936.1h14.2l-7.1 14.7zM1237.7 939.9l1.9 3.3l1.9 -3.3zM1255.8 936.1h14.2l-7.1 14.7zM1261.0 939.9l1.9 3.3l1.9 -3.3zM1279.1 936.1h14.2l-7.1 14.7zM1284.3 939.9l1.9 3.3l1.9 -3.3zM1302.4 936.1h14.2l-7.1 14.7zM1307.6 939.9l1.9 3.3l1.9 -3.3zM1325.7 936.1h14.2l-7.1 14.7zM1330.9 939.9l1.9 3.3l1.9 -3.3zM1349.0 936.1h14.2l-7.1 14.7zM1354.2 939.9l1.9 3.3l1.9 -3.3zM1372.3 936.1h14.2l-7.1 14.7zM1377.5 939.9l1.9 3.3l1.9 -3.3zM1395.6 936.1h14.2l-7.1 14.7zM1400.8 939.9l1.9 3.3l1.9 -3.3zM1418.9 936.1h14.2l-7.1 14.7zM1424.1 939.9l1.9 3.3l1.9 -3.3zM1442.2 936.1h14.2l-7.1 14.7zM1447.4 939.9l1.9 3.3l1.9 -3.3zM1465.5 936.1h14.2l-7.1 14.7zM1470.7 939.9l1.9 3.3l1.9 -3.3zM1488.8 936.1h14.2l-7.1 14.7zM1494.0 939.9l1.9 3.3l1.9 -3.3zM1512.1 936.1h14.2l-7.1 14.7zM1517.3 939.9l1.9 3.3l1.9 -3.3zM1535.4 936.1h14.2l-7.1 14.7zM1540.6 939.9l1.9 3.3l1.9 -3.3zM1558.7 936.1h14.2l-7.1 14.7zM1563.9 939.9l1.9 3.3l1.9 -3.3zM1246.5 956.1h14.2l-7.1 14.7zM1251.7 960.0l1.9 3.3l1.9 -3.3zM1269.8 956.1h14.2l-7.1 14.7zM1275.0 960.0l1.9 3.3l1.9 -3.3zM1293.1 956.1h14.2l-7.1 14.7zM1298.3 960.0l1.9 3.3l1.9 -3.3zM1316.4 956.1h14.2l-7.1 14.7zM1321.6 960.0l1.9 3.3l1.9 -3.3zM1339.7 956.1h14.2l-7.1 14.7zM1344.9 960.0l1.9 3.3l1.9 -3.3zM1363.0 956.1h14.2l-7.1 14.7zM1368.2 960.0l1.9 3.3l1.9 -3.3zM1386.3 956.1h14.2l-7.1 14.7zM1391.5 960.0l1.9 3.3l1.9 -3.3zM1409.6 956.1h14.2l-7.1 14.7zM1414.8 960.0l1.9 3.3l1.9 -3.3zM1432.9 956.1h14.2l-7.1 14.7zM1438.1 960.0l1.9 3.3l1.9 -3.3zM1456.2 956.1h14.2l-7.1 14.7zM1461.4 960.0l1.9 3.3l1.9 -3.3zM1479.5 956.1h14.2l-7.1 14.7zM1484.7 960.0l1.9 3.3l1.9 -3.3zM1502.8 956.1h14.2l-7.1 14.7zM1508.0 960.0l1.9 3.3l1.9 -3.3zM1526.1 956.1h14.2l-7.1 14.7zM1531.3 960.0l1.9 3.3l1.9 -3.3zM1549.4 956.1h14.2l-7.1 14.7zM1554.6 960.0l1.9 3.3l1.9 -3.3zM1232.5 976.2h14.2l-7.1 14.7zM1237.7 980.0l1.9 3.3l1.9 -3.3zM1255.8 976.2h14.2l-7.1 14.7zM1261.0 980.0l1.9 3.3l1.9 -3.3zM1279.1 976.2h14.2l-7.1 14.7zM1284.3 980.0l1.9 3.3l1.9 -3.3zM1302.4 976.2h14.2l-7.1 14.7zM1307.6 980.0l1.9 3.3l1.9 -3.3zM1325.7 976.2h14.2l-7.1 14.7zM1330.9 980.0l1.9 3.3l1.9 -3.3zM1349.0 976.2h14.2l-7.1 14.7zM1354.2 980.0l1.9 3.3l1.9 -3.3zM1372.3 976.2h14.2l-7.1 14.7zM1377.5 980.0l1.9 3.3l1.9 -3.3zM1395.6 976.2h14.2l-7.1 14.7zM1400.8 980.0l1.9 3.3l1.9 -3.3zM1418.9 976.2h14.2l-7.1 14.7zM1424.1 980.0l1.9 3.3l1.9 -3.3zM1442.2 976.2h14.2l-7.1 14.7zM1447.4 980.0l1.9 3.3l1.9 -3.3zM1465.5 976.2h14.2l-7.1 14.7zM1470.7 980.0l1.9 3.3l1.9 -3.3zM1488.8 976.2h14.2l-7.1 14.7zM1494.0 980.0l1.9 3.3l1.9 -3.3zM1512.1 976.2h14.2l-7.1 14.7zM1517.3 980.0l1.9 3.3l1.9 -3.3zM1535.4 976.2h14.2l-7.1 14.7zM1540.6 980.0l1.9 3.3l1.9 -3.3zM1558.7 976.2h14.2l-7.1 14.7zM1563.9 980.0l1.9 3.3l1.9 -3.3zM1246.5 996.2h14.2l-7.1 14.7zM1251.7 1000.1l1.9 3.3l1.9 -3.3zM1269.8 996.2h14.2l-7.1 14.7zM1275.0 1000.1l1.9 3.3l1.9 -3.3zM1293.1 996.2h14.2l-7.1 14.7zM1298.3 1000.1l1.9 3.3l1.9 -3.3zM1316.4 996.2h14.2l-7.1 14.7zM1321.6 1000.1l1.9 3.3l1.9 -3.3zM1339.7 996.2h14.2l-7.1 14.7zM1344.9 1000.1l1.9 3.3l1.9 -3.3zM1363.0 996.2h14.2l-7.1 14.7zM1368.2 1000.1l1.9 3.3l1.9 -3.3zM1386.3 996.2h14.2l-7.1 14.7zM1391.5 1000.1l1.9 3.3l1.9 -3.3zM1409.6 996.2h14.2l-7.1 14.7zM1414.8 1000.1l1.9 3.3l1.9 -3.3zM1432.9 996.2h14.2l-7.1 14.7zM1438.1 1000.1l1.9 3.3l1.9 -3.3zM1456.2 996.2h14.2l-7.1 14.7zM1461.4 1000.1l1.9 3.3l1.9 -3.3zM1479.5 996.2h14.2l-7.1 14.7zM1484.7 1000.1l1.9 3.3l1.9 -3.3zM1502.8 996.2h14.2l-7.1 14.7zM1508.0 1000.1l1.9 3.3l1.9 -3.3zM1526.1 996.2h14.2l-7.1 14.7zM1531.3 1000.1l1.9 3.3l1.9 -3.3zM1549.4 996.2h14.2l-7.1 14.7zM1554.6 1000.1l1.9 3.3l1.9 -3.3zM1232.5 1016.3h14.2l-7.1 14.7zM1237.7 1020.1l1.9 3.3l1.9 -3.3zM1255.8 1016.3h14.2l-7.1 14.7zM1261.0 1020.1l1.9 3.3l1.9 -3.3zM1279.1 1016.3h14.2l-7.1 14.7zM1284.3 1020.1l1.9 3.3l1.9 -3.3zM1302.4 1016.3h14.2l-7.1 14.7zM1307.6 1020.1l1.9 3.3l1.9 -3.3zM1325.7 1016.3h14.2l-7.1 14.7zM1330.9 1020.1l1.9 3.3l1.9 -3.3zM1349.0 1016.3h14.2l-7.1 14.7zM1354.2 1020.1l1.9 3.3l1.9 -3.3zM1372.3 1016.3h14.2l-7.1 14.7zM1377.5 1020.1l1.9 3.3l1.9 -3.3zM1395.6 1016.3h14.2l-7.1 14.7zM1400.8 1020.1l1.9 3.3l1.9 -3.3zM1418.9 1016.3h14.2l-7.1 14.7zM1424.1 1020.1l1.9 3.3l1.9 -3.3zM1442.2 1016.3h14.2l-7.1 14.7zM1447.4 1020.1l1.9 3.3l1.9 -3.3zM1465.5 1016.3h14.2l-7.1 14.7zM1470.7 1020.1l1.9 3.3l1.9 -3.3zM1488.8 1016.3h14.2l-7.1 14.7zM1494.0 1020.1l1.9 3.3l1.9 -3.3zM1512.1 1016.3h14.2l-7.1 14.7zM1517.3 1020.1l1.9 3.3l1.9 -3.3zM1535.4 1016.3h14.2l-7.1 14.7zM1540.6 1020.1l1.9 3.3l1.9 -3.3zM1558.7 1016.3h14.2l-7.1 14.7zM1563.9 1020.1l1.9 3.3l1.9 -3.3zM1246.5 1036.3h14.2l-7.1 14.7zM1251.7 1040.1l1.9 3.3l1.9 -3.3zM1269.8 1036.3h14.2l-7.1 14.7zM1275.0 1040.1l1.9 3.3l1.9 -3.3zM1293.1 1036.3h14.2l-7.1 14.7zM1298.3 1040.1l1.9 3.3l1.9 -3.3zM1316.4 1036.3h14.2l-7.1 14.7zM1321.6 1040.1l1.9 3.3l1.9 -3.3zM1339.7 1036.3h14.2l-7.1 14.7zM1344.9 1040.1l1.9 3.3l1.9 -3.3zM1363.0 1036.3h14.2l-7.1 14.7zM1368.2 1040.1l1.9 3.3l1.9 -3.3zM1386.3 1036.3h14.2l-7.1 14.7zM1391.5 1040.1l1.9 3.3l1.9 -3.3zM1409.6 1036.3h14.2l-7.1 14.7zM1414.8 1040.1l1.9 3.3l1.9 -3.3zM1432.9 1036.3h14.2l-7.1 14.7zM1438.1 1040.1l1.9 3.3l1.9 -3.3zM1456.2 1036.3h14.2l-7.1 14.7zM1461.4 1040.1l1.9 3.3l1.9 -3.3zM1479.5 1036.3h14.2l-7.1 14.7zM1484.7 1040.1l1.9 3.3l1.9 -3.3zM1502.8 1036.3h14.2l-7.1 14.7zM1508.0 1040.1l1.9 3.3l1.9 -3.3zM1526.1 1036.3h14.2l-7.1 14.7zM1531.3 1040.1l1.9 3.3l1.9 -3.3zM1549.4 1036.3h14.2l-7.1 14.7zM1554.6 1040.1l1.9 3.3l1.9 -3.3zM1232.5 1056.4h14.2l-7.1 14.7zM1237.7 1060.2l1.9 3.3l1.9 -3.3zM1255.8 1056.4h14.2l-7.1 14.7zM1261.0 1060.2l1.9 3.3l1.9 -3.3zM1279.1 1056.4h14.2l-7.1 14.7zM1284.3 1060.2l1.9 3.3l1.9 -3.3zM1302.4 1056.4h14.2l-7.1 14.7zM1307.6 1060.2l1.9 3.3l1.9 -3.3zM1325.7 1056.4h14.2l-7.1 14.7zM1330.9 1060.2l1.9 3.3l1.9 -3.3zM1349.0 1056.4h14.2l-7.1 14.7zM1354.2 1060.2l1.9 3.3l1.9 -3.3zM1372.3 1056.4h14.2l-7.1 14.7zM1377.5 1060.2l1.9 3.3l1.9 -3.3zM1395.6 1056.4h14.2l-7.1 14.7zM1400.8 1060.2l1.9 3.3l1.9 -3.3zM1418.9 1056.4h14.2l-7.1 14.7zM1424.1 1060.2l1.9 3.3l1.9 -3.3zM1442.2 1056.4h14.2l-7.1 14.7zM1447.4 1060.2l1.9 3.3l1.9 -3.3zM1465.5 1056.4h14.2l-7.1 14.7zM1470.7 1060.2l1.9 3.3l1.9 -3.3zM1488.8 1056.4h14.2l-7.1 14.7zM1494.0 1060.2l1.9 3.3l1.9 -3.3zM1512.1 1056.4h14.2l-7.1 14.7zM1517.3 1060.2l1.9 3.3l1.9 -3.3zM1535.4 1056.4h14.2l-7.1 14.7zM1540.6 1060.2l1.9 3.3l1.9 -3.3zM1558.7 1056.4h14.2l-7.1 14.7zM1563.9 1060.2l1.9 3.3l1.9 -3.3zM1246.5 1076.5h14.2l-7.1 14.7zM1251.7 1080.2l1.9 3.3l1.9 -3.3zM1269.8 1076.5h14.2l-7.1 14.7zM1275.0 1080.2l1.9 3.3l1.9 -3.3zM1293.1 1076.5h14.2l-7.1 14.7zM1298.3 1080.2l1.9 3.3l1.9 -3.3zM1316.4 1076.5h14.2l-7.1 14.7zM1321.6 1080.2l1.9 3.3l1.9 -3.3zM1339.7 1076.5h14.2l-7.1 14.7zM1344.9 1080.2l1.9 3.3l1.9 -3.3zM1363.0 1076.5h14.2l-7.1 14.7zM1368.2 1080.2l1.9 3.3l1.9 -3.3zM1386.3 1076.5h14.2l-7.1 14.7zM1391.5 1080.2l1.9 3.3l1.9 -3.3zM1409.6 1076.5h14.2l-7.1 14.7zM1414.8 1080.2l1.9 3.3l1.9 -3.3zM1432.9 1076.5h14.2l-7.1 14.7zM1438.1 1080.2l1.9 3.3l1.9 -3.3zM1456.2 1076.5h14.2l-7.1 14.7zM1461.4 1080.2l1.9 3.3l1.9 -3.3zM1479.5 1076.5h14.2l-7.1 14.7zM1484.7 1080.2l1.9 3.3l1.9 -3.3zM1502.8 1076.5h14.2l-7.1 14.7zM1508.0 1080.2l1.9 3.3l1.9 -3.3zM1526.1 1076.5h14.2l-7.1 14.7zM1531.3 1080.2l1.9 3.3l1.9 -3.3zM1549.4 1076.5h14.2l-7.1 14.7zM1554.6 1080.2l1.9 3.3l1.9 -3.3zM1232.5 1096.5h14.2l-7.1 14.7zM1237.7 1100.3l1.9 3.3l1.9 -3.3zM1255.8 1096.5h14.2l-7.1 14.7zM1261.0 1100.3l1.9 3.3l1.9 -3.3zM1279.1 1096.5h14.2l-7.1 14.7zM1284.3 1100.3l1.9 3.3l1.9 -3.3zM1302.4 1096.5h14.2l-7.1 14.7zM1307.6 1100.3l1.9 3.3l1.9 -3.3zM1325.7 1096.5h14.2l-7.1 14.7zM1330.9 1100.3l1.9 3.3l1.9 -3.3zM1349.0 1096.5h14.2l-7.1 14.7zM1354.2 1100.3l1.9 3.3l1.9 -3.3zM1372.3 1096.5h14.2l-7.1 14.7zM1377.5 1100.3l1.9 3.3l1.9 -3.3zM1395.6 1096.5h14.2l-7.1 14.7zM1400.8 1100.3l1.9 3.3l1.9 -3.3zM1418.9 1096.5h14.2l-7.1 14.7zM1424.1 1100.3l1.9 3.3l1.9 -3.3zM1442.2 1096.5h14.2l-7.1 14.7zM1447.4 1100.3l1.9 3.3l1.9 -3.3zM1465.5 1096.5h14.2l-7.1 14.7zM1470.7 1100.3l1.9 3.3l1.9 -3.3zM1488.8 1096.5h14.2l-7.1 14.7zM1494.0 1100.3l1.9 3.3l1.9 -3.3zM1512.1 1096.5h14.2l-7.1 14.7zM1517.3 1100.3l1.9 3.3l1.9 -3.3zM1535.4 1096.5h14.2l-7.1 14.7zM1540.6 1100.3l1.9 3.3l1.9 -3.3zM1558.7 1096.5h14.2l-7.1 14.7zM1563.9 1100.3l1.9 3.3l1.9 -3.3zM1246.5 1116.5h14.2l-7.1 14.7zM1251.7 1120.3l1.9 3.3l1.9 -3.3zM1269.8 1116.5h14.2l-7.1 14.7zM1275.0 1120.3l1.9 3.3l1.9 -3.3zM1293.1 1116.5h14.2l-7.1 14.7zM1298.3 1120.3l1.9 3.3l1.9 -3.3zM1316.4 1116.5h14.2l-7.1 14.7zM1321.6 1120.3l1.9 3.3l1.9 -3.3zM1339.7 1116.5h14.2l-7.1 14.7zM1344.9 1120.3l1.9 3.3l1.9 -3.3zM1363.0 1116.5h14.2l-7.1 14.7zM1368.2 1120.3l1.9 3.3l1.9 -3.3zM1386.3 1116.5h14.2l-7.1 14.7zM1391.5 1120.3l1.9 3.3l1.9 -3.3zM1409.6 1116.5h14.2l-7.1 14.7zM1414.8 1120.3l1.9 3.3l1.9 -3.3zM1432.9 1116.5h14.2l-7.1 14.7zM1438.1 1120.3l1.9 3.3l1.9 -3.3zM1456.2 1116.5h14.2l-7.1 14.7zM1461.4 1120.3l1.9 3.3l1.9 -3.3zM1479.5 1116.5h14.2l-7.1 14.7zM1484.7 1120.3l1.9 3.3l1.9 -3.3zM1502.8 1116.5h14.2l-7.1 14.7zM1508.0 1120.3l1.9 3.3l1.9 -3.3zM1526.1 1116.5h14.2l-7.1 14.7zM1531.3 1120.3l1.9 3.3l1.9 -3.3zM1549.4 1116.5h14.2l-7.1 14.7zM1554.6 1120.3l1.9 3.3l1.9 -3.3zM1232.5 1136.6h14.2l-7.1 14.7zM1237.7 1140.4l1.9 3.3l1.9 -3.3zM1255.8 1136.6h14.2l-7.1 14.7zM1261.0 1140.4l1.9 3.3l1.9 -3.3zM1279.1 1136.6h14.2l-7.1 14.7zM1284.3 1140.4l1.9 3.3l1.9 -3.3zM1302.4 1136.6h14.2l-7.1 14.7zM1307.6 1140.4l1.9 3.3l1.9 -3.3zM1325.7 1136.6h14.2l-7.1 14.7zM1330.9 1140.4l1.9 3.3l1.9 -3.3zM1349.0 1136.6h14.2l-7.1 14.7zM1354.2 1140.4l1.9 3.3l1.9 -3.3zM1372.3 1136.6h14.2l-7.1 14.7zM1377.5 1140.4l1.9 3.3l1.9 -3.3zM1395.6 1136.6h14.2l-7.1 14.7zM1400.8 1140.4l1.9 3.3l1.9 -3.3zM1418.9 1136.6h14.2l-7.1 14.7zM1424.1 1140.4l1.9 3.3l1.9 -3.3zM1442.2 1136.6h14.2l-7.1 14.7zM1447.4 1140.4l1.9 3.3l1.9 -3.3zM1465.5 1136.6h14.2l-7.1 14.7zM1470.7 1140.4l1.9 3.3l1.9 -3.3zM1488.8 1136.6h14.2l-7.1 14.7zM1494.0 1140.4l1.9 3.3l1.9 -3.3zM1512.1 1136.6h14.2l-7.1 14.7zM1517.3 1140.4l1.9 3.3l1.9 -3.3zM1535.4 1136.6h14.2l-7.1 14.7zM1540.6 1140.4l1.9 3.3l1.9 -3.3zM1558.7 1136.6h14.2l-7.1 14.7zM1563.9 1140.4l1.9 3.3l1.9 -3.3zM1246.5 1156.6h14.2l-7.1 14.7zM1251.7 1160.4l1.9 3.3l1.9 -3.3zM1269.8 1156.6h14.2l-7.1 14.7zM1275.0 1160.4l1.9 3.3l1.9 -3.3zM1293.1 1156.6h14.2l-7.1 14.7zM1298.3 1160.4l1.9 3.3l1.9 -3.3zM1316.4 1156.6h14.2l-7.1 14.7zM1321.6 1160.4l1.9 3.3l1.9 -3.3zM1339.7 1156.6h14.2l-7.1 14.7zM1344.9 1160.4l1.9 3.3l1.9 -3.3zM1363.0 1156.6h14.2l-7.1 14.7zM1368.2 1160.4l1.9 3.3l1.9 -3.3zM1386.3 1156.6h14.2l-7.1 14.7zM1391.5 1160.4l1.9 3.3l1.9 -3.3zM1409.6 1156.6h14.2l-7.1 14.7zM1414.8 1160.4l1.9 3.3l1.9 -3.3zM1432.9 1156.6h14.2l-7.1 14.7zM1438.1 1160.4l1.9 3.3l1.9 -3.3zM1456.2 1156.6h14.2l-7.1 14.7zM1461.4 1160.4l1.9 3.3l1.9 -3.3zM1479.5 1156.6h14.2l-7.1 14.7zM1484.7 1160.4l1.9 3.3l1.9 -3.3zM1502.8 1156.6h14.2l-7.1 14.7zM1508.0 1160.4l1.9 3.3l1.9 -3.3zM1526.1 1156.6h14.2l-7.1 14.7zM1531.3 1160.4l1.9 3.3l1.9 -3.3zM1549.4 1156.6h14.2l-7.1 14.7zM1554.6 1160.4l1.9 3.3l1.9 -3.3zM1232.5 1176.7h14.2l-7.1 14.7zM1237.7 1180.5l1.9 3.3l1.9 -3.3zM1255.8 1176.7h14.2l-7.1 14.7zM1261.0 1180.5l1.9 3.3l1.9 -3.3zM1279.1 1176.7h14.2l-7.1 14.7zM1284.3 1180.5l1.9 3.3l1.9 -3.3zM1302.4 1176.7h14.2l-7.1 14.7zM1307.6 1180.5l1.9 3.3l1.9 -3.3zM1325.7 1176.7h14.2l-7.1 14.7zM1330.9 1180.5l1.9 3.3l1.9 -3.3zM1349.0 1176.7h14.2l-7.1 14.7zM1354.2 1180.5l1.9 3.3l1.9 -3.3zM1372.3 1176.7h14.2l-7.1 14.7zM1377.5 1180.5l1.9 3.3l1.9 -3.3zM1395.6 1176.7h14.2l-7.1 14.7zM1400.8 1180.5l1.9 3.3l1.9 -3.3zM1418.9 1176.7h14.2l-7.1 14.7zM1424.1 1180.5l1.9 3.3l1.9 -3.3zM1442.2 1176.7h14.2l-7.1 14.7zM1447.4 1180.5l1.9 3.3l1.9 -3.3zM1465.5 1176.7h14.2l-7.1 14.7zM1470.7 1180.5l1.9 3.3l1.9 -3.3zM1488.8 1176.7h14.2l-7.1 14.7zM1494.0 1180.5l1.9 3.3l1.9 -3.3zM1512.1 1176.7h14.2l-7.1 14.7zM1517.3 1180.5l1.9 3.3l1.9 -3.3zM1535.4 1176.7h14.2l-7.1 14.7zM1540.6 1180.5l1.9 3.3l1.9 -3.3zM1558.7 1176.7h14.2l-7.1 14.7zM1563.9 1180.5l1.9 3.3l1.9 -3.3zM1246.5 1196.8h14.2l-7.1 14.7zM1251.7 1200.5l1.9 3.3l1.9 -3.3zM1269.8 1196.8h14.2l-7.1 14.7zM1275.0 1200.5l1.9 3.3l1.9 -3.3zM1293.1 1196.8h14.2l-7.1 14.7zM1298.3 1200.5l1.9 3.3l1.9 -3.3zM1316.4 1196.8h14.2l-7.1 14.7zM1321.6 1200.5l1.9 3.3l1.9 -3.3zM1339.7 1196.8h14.2l-7.1 14.7zM1344.9 1200.5l1.9 3.3l1.9 -3.3zM1363.0 1196.8h14.2l-7.1 14.7zM1368.2 1200.5l1.9 3.3l1.9 -3.3zM1386.3 1196.8h14.2l-7.1 14.7zM1391.5 1200.5l1.9 3.3l1.9 -3.3zM1409.6 1196.8h14.2l-7.1 14.7zM1414.8 1200.5l1.9 3.3l1.9 -3.3zM1432.9 1196.8h14.2l-7.1 14.7zM1438.1 1200.5l1.9 3.3l1.9 -3.3zM1456.2 1196.8h14.2l-7.1 14.7zM1461.4 1200.5l1.9 3.3l1.9 -3.3zM1479.5 1196.8h14.2l-7.1 14.7zM1484.7 1200.5l1.9 3.3l1.9 -3.3zM1502.8 1196.8h14.2l-7.1 14.7zM1508.0 1200.5l1.9 3.3l1.9 -3.3zM1526.1 1196.8h14.2l-7.1 14.7zM1531.3 1200.5l1.9 3.3l1.9 -3.3zM1549.4 1196.8h14.2l-7.1 14.7zM1554.6 1200.5l1.9 3.3l1.9 -3.3zM1232.5 1216.8h14.2l-7.1 14.7zM1237.7 1220.6l1.9 3.3l1.9 -3.3zM1255.8 1216.8h14.2l-7.1 14.7zM1261.0 1220.6l1.9 3.3l1.9 -3.3zM1279.1 1216.8h14.2l-7.1 14.7zM1284.3 1220.6l1.9 3.3l1.9 -3.3zM1302.4 1216.8h14.2l-7.1 14.7zM1307.6 1220.6l1.9 3.3l1.9 -3.3zM1325.7 1216.8h14.2l-7.1 14.7zM1330.9 1220.6l1.9 3.3l1.9 -3.3zM1349.0 1216.8h14.2l-7.1 14.7zM1354.2 1220.6l1.9 3.3l1.9 -3.3zM1372.3 1216.8h14.2l-7.1 14.7zM1377.5 1220.6l1.9 3.3l1.9 -3.3zM1395.6 1216.8h14.2l-7.1 14.7zM1400.8 1220.6l1.9 3.3l1.9 -3.3zM1418.9 1216.8h14.2l-7.1 14.7zM1424.1 1220.6l1.9 3.3l1.9 -3.3zM1442.2 1216.8h14.2l-7.1 14.7zM1447.4 1220.6l1.9 3.3l1.9 -3.3zM1465.5 1216.8h14.2l-7.1 14.7zM1470.7 1220.6l1.9 3.3l1.9 -3.3zM1488.8 1216.8h14.2l-7.1 14.7zM1494.0 1220.6l1.9 3.3l1.9 -3.3zM1512.1 1216.8h14.2l-7.1 14.7zM1517.3 1220.6l1.9 3.3l1.9 -3.3zM1535.4 1216.8h14.2l-7.1 14.7zM1540.6 1220.6l1.9 3.3l1.9 -3.3zM1558.7 1216.8h14.2l-7.1 14.7zM1563.9 1220.6l1.9 3.3l1.9 -3.3zM1246.5 1236.8h14.2l-7.1 14.7zM1251.7 1240.6l1.9 3.3l1.9 -3.3zM1269.8 1236.8h14.2l-7.1 14.7zM1275.0 1240.6l1.9 3.3l1.9 -3.3zM1293.1 1236.8h14.2l-7.1 14.7zM1298.3 1240.6l1.9 3.3l1.9 -3.3zM1316.4 1236.8h14.2l-7.1 14.7zM1321.6 1240.6l1.9 3.3l1.9 -3.3zM1339.7 1236.8h14.2l-7.1 14.7zM1344.9 1240.6l1.9 3.3l1.9 -3.3zM1363.0 1236.8h14.2l-7.1 14.7zM1368.2 1240.6l1.9 3.3l1.9 -3.3zM1386.3 1236.8h14.2l-7.1 14.7zM1391.5 1240.6l1.9 3.3l1.9 -3.3zM1409.6 1236.8h14.2l-7.1 14.7zM1414.8 1240.6l1.9 3.3l1.9 -3.3zM1432.9 1236.8h14.2l-7.1 14.7zM1438.1 1240.6l1.9 3.3l1.9 -3.3zM1456.2 1236.8h14.2l-7.1 14.7zM1461.4 1240.6l1.9 3.3l1.9 -3.3zM1479.5 1236.8h14.2l-7.1 14.7zM1484.7 1240.6l1.9 3.3l1.9 -3.3zM1502.8 1236.8h14.2l-7.1 14.7zM1508.0 1240.6l1.9 3.3l1.9 -3.3zM1526.1 1236.8h14.2l-7.1 14.7zM1531.3 1240.6l1.9 3.3l1.9 -3.3zM1549.4 1236.8h14.2l-7.1 14.7zM1554.6 1240.6l1.9 3.3l1.9 -3.3zM1232.5 1256.9h14.2l-7.1 14.7zM1237.7 1260.7l1.9 3.3l1.9 -3.3zM1255.8 1256.9h14.2l-7.1 14.7zM1261.0 1260.7l1.9 3.3l1.9 -3.3zM1279.1 1256.9h14.2l-7.1 14.7zM1284.3 1260.7l1.9 3.3l1.9 -3.3zM1302.4 1256.9h14.2l-7.1 14.7zM1307.6 1260.7l1.9 3.3l1.9 -3.3zM1325.7 1256.9h14.2l-7.1 14.7zM1330.9 1260.7l1.9 3.3l1.9 -3.3zM1349.0 1256.9h14.2l-7.1 14.7zM1354.2 1260.7l1.9 3.3l1.9 -3.3zM1372.3 1256.9h14.2l-7.1 14.7zM1377.5 1260.7l1.9 3.3l1.9 -3.3zM1395.6 1256.9h14.2l-7.1 14.7zM1400.8 1260.7l1.9 3.3l1.9 -3.3zM1418.9 1256.9h14.2l-7.1 14.7zM1424.1 1260.7l1.9 3.3l1.9 -3.3zM1442.2 1256.9h14.2l-7.1 14.7zM1447.4 1260.7l1.9 3.3l1.9 -3.3zM1465.5 1256.9h14.2l-7.1 14.7zM1470.7 1260.7l1.9 3.3l1.9 -3.3zM1488.8 1256.9h14.2l-7.1 14.7zM1494.0 1260.7l1.9 3.3l1.9 -3.3zM1512.1 1256.9h14.2l-7.1 14.7zM1517.3 1260.7l1.9 3.3l1.9 -3.3zM1535.4 1256.9h14.2l-7.1 14.7zM1540.6 1260.7l1.9 3.3l1.9 -3.3zM1558.7 1256.9h14.2l-7.1 14.7zM1563.9 1260.7l1.9 3.3l1.9 -3.3z" fill="#1b1a1a" fill-rule="evenodd"/></g>
<path d="M1250.9 834.8 L1251.0 829.2 L1252.2 824.9 L1254.1 821.7 L1256.8 819.5 L1260.0 818.2 L1263.6 817.5 L1267.4 817.3 L1271.3 817.4 L1275.2 817.8 L1279.1 818.3 L1282.9 819.1 L1286.8 820.0 L1290.6 821.1 L1294.4 822.3 L1298.3 823.7 L1302.0 825.2 L1305.8 826.8 L1309.6 828.4 L1313.3 830.2 L1317.0 832.0 L1320.7 833.9 L1324.4 835.8 L1328.0 837.7 L1331.7 839.6 L1335.3 841.6 L1338.9 843.6 L1342.4 845.7 L1346.0 847.7 L1349.5 849.8 L1353.0 852.0 L1356.5 854.1 L1359.9 856.3 L1363.4 858.5 L1366.8 860.8 L1370.2 863.0 L1373.5 865.3 L1376.9 867.6 L1380.2 870.0 L1383.5 872.4 L1386.8 874.8 L1390.0 877.2 L1393.2 879.7 L1396.4 882.2 L1399.6 884.7 L1402.7 887.3 L1405.8 889.8 L1408.9 892.5 L1412.0 895.1 L1415.0 897.7 L1418.0 900.4 L1421.0 903.2 L1423.9 905.9 L1426.9 908.7 L1429.8 911.5 L1432.6 914.3 L1435.5 917.1 L1438.3 920.0 L1441.1 922.9 L1443.8 925.9 L1446.5 928.8 L1449.2 931.8 L1451.9 934.8 L1454.5 937.9 L1457.1 940.9 L1459.7 944.0 L1462.2 947.1 L1464.8 950.3 L1467.2 953.5 L1469.7 956.7 L1472.1 959.9 L1474.5 963.1 L1476.8 966.4 L1479.1 969.7 L1481.4 973.0 L1483.7 976.4 L1485.9 979.8 L1488.1 983.2 L1490.3 986.6 L1492.4 990.0 L1494.5 993.5 L1496.5 997.0 L1498.6 1000.5 L1500.6 1004.0 L1502.5 1007.5 L1504.5 1011.1 L1506.3 1014.7 L1508.2 1018.3 L1510.0 1021.9 L1511.8 1025.6 L1513.6 1029.2 L1515.3 1032.9 L1517.0 1036.6 L1518.7 1040.3 L1520.3 1044.0 L1521.9 1047.8 L1523.5 1051.5 L1525.0 1055.3 L1526.5 1059.1 L1528.0 1062.9 L1529.4 1066.7 L1530.8 1070.5 L1532.2 1074.4 L1533.5 1078.2 L1534.8 1082.1 L1536.0 1085.9 L1537.3 1089.8 L1538.5 1093.7 L1539.6 1097.6 L1540.7 1101.5 L1541.8 1105.5 L1542.9 1109.4 L1543.9 1113.3 L1544.9 1117.3 L1545.8 1121.2 L1546.7 1125.2 L1547.6 1129.1 L1548.5 1133.1 L1549.3 1137.1 L1550.0 1141.1 L1550.8 1145.1 L1551.5 1149.1 L1552.2 1153.1 L1552.8 1157.1 L1553.4 1161.1 L1553.9 1165.1 L1554.4 1169.1 L1554.9 1173.1 L1555.3 1177.1 L1555.7 1181.1 L1556.1 1185.2 L1556.4 1189.2 L1556.6 1193.2 L1556.8 1197.2 L1557.0 1201.3 L1557.1 1205.3 L1557.2 1209.3 L1557.2 1213.4 L1557.2 1217.4 L1557.1 1221.4 L1557.0 1225.5 L1556.9 1229.5 L1556.6 1233.5 L1556.4 1237.5 L1556.0 1241.5 L1555.2 1245.3 L1553.9 1248.8 L1551.8 1251.8 L1548.7 1254.2 L1544.3 1255.9 L1400 1269.6 L1380.5 1272 L1375.8 1271.5 L1372.3 1269.6 L1369.6 1267.0 L1367.4 1263.9 L1365.6 1260.5 L1363.9 1256.9 L1362.4 1253.3 L1360.9 1249.6 L1359.6 1245.9 L1358.3 1242.1 L1357.1 1238.3 L1356.0 1234.4 L1355.0 1230.5 L1353.9 1226.6 L1353.0 1222.7 L1352.0 1218.7 L1351.1 1214.7 L1350.2 1210.7 L1349.3 1206.7 L1348.5 1202.8 L1347.6 1198.8 L1346.7 1194.8 L1345.7 1190.8 L1344.8 1186.8 L1343.8 1182.9 L1342.9 1178.9 L1341.9 1174.9 L1340.9 1171.0 L1339.9 1167.1 L1338.8 1163.1 L1337.8 1159.2 L1336.7 1155.3 L1335.7 1151.4 L1334.6 1147.4 L1333.5 1143.5 L1332.5 1139.6 L1331.4 1135.7 L1330.3 1131.8 L1329.2 1128.0 L1328.0 1124.1 L1326.9 1120.2 L1325.8 1116.3 L1324.7 1112.4 L1323.5 1108.5 L1322.4 1104.6 L1321.3 1100.8 L1320.1 1096.9 L1319.0 1093.0 L1317.9 1089.1 L1316.7 1085.3 L1315.6 1081.4 L1314.5 1077.5 L1313.3 1073.6 L1312.2 1069.8 L1311.1 1065.9 L1310.0 1062.0 L1308.9 1058.1 L1307.7 1054.2 L1306.6 1050.4 L1305.5 1046.5 L1304.5 1042.6 L1303.4 1038.7 L1302.3 1034.8 L1301.3 1030.9 L1300.2 1027.0 L1299.2 1023.1 L1298.1 1019.2 L1297.1 1015.2 L1296.1 1011.3 L1295.0 1007.4 L1294.0 1003.5 L1293.0 999.6 L1292.0 995.6 L1291.0 991.7 L1290.0 987.8 L1289.0 983.9 L1288.0 979.9 L1287.1 976.0 L1286.1 972.1 L1285.1 968.1 L1284.1 964.2 L1283.2 960.3 L1282.2 956.3 L1281.2 952.4 L1280.2 948.5 L1279.3 944.5 L1278.3 940.6 L1277.3 936.6 L1276.4 932.7 L1275.4 928.8 L1274.4 924.8 L1273.5 920.9 L1272.5 917.0 L1271.5 913.0 L1270.5 909.1 L1269.5 905.2 L1268.5 901.3 L1267.6 897.3 L1266.6 893.4 L1265.6 889.5 L1264.6 885.6 L1263.5 881.6 L1262.5 877.7 L1261.5 873.8 L1260.5 869.9 L1259.4 866.0 L1258.4 862.1 L1257.4 858.2 L1256.3 854.3 L1255.2 850.4 L1254.2 846.5 L1253.1 842.6 L1252.0 838.7 L1250.9 834.8 Z" stroke="#1b1a1a" stroke-width="2.8" fill="none"/>
<path d="M939.9 402.2 V375.5 C939.9 362 945 354.5 955.1 353.1 L1063.6 344.8 C1083 343.5 1095.1 356 1095.1 376 V402.2" fill="#e2e2e3" stroke="#1b1a1a" stroke-width="3"/>
<circle cx="1057.8" cy="381.8" r="9.3" fill="#e2e2e3" stroke="#1b1a1a" stroke-width="3"/>
<rect x="1489.4" y="476.9" width="174.8" height="97.6" fill="#e2e2e3" stroke="#1b1a1a" stroke-width="3"/>
<path d="M1563.3 476.9 V574.5" stroke="#1b1a1a" stroke-width="3"/>
<rect x="1483.4" y="487.5" width="6.4" height="77" fill="#1b1a1a"/>
<path d="M1664.2 501.5 H1700 V550.3 H1664.2 M1680.3 501.5 V550.3" fill="#e2e2e3" stroke="#1b1a1a" stroke-width="3"/>
<circle cx="1644.1" cy="461.4" r="54.3" fill="#e2e2e3" stroke="#1b1a1a" stroke-width="3"/>
<path d="M2050 497.6 H2126.8 V554.3 H2050 Z" fill="#e2e2e3" stroke="#1b1a1a" stroke-width="2.9"/>
<path d="M2126.8 501.6 H2179.4 V550.3 H2126.8" fill="#e2e2e3" stroke="#1b1a1a" stroke-width="2.9"/>
<rect x="2136.3" y="497.6" width="12.3" height="56.7" fill="#e2e2e3" stroke="#1b1a1a" stroke-width="2.9"/>
<rect x="2157.4" y="497.6" width="12.4" height="56.7" fill="#e2e2e3" stroke="#1b1a1a" stroke-width="2.9"/>
<rect x="2179.4" y="497.6" width="13.1" height="56.7" fill="#e2e2e3" stroke="#1b1a1a" stroke-width="2.9"/>
<circle cx="1879.6" cy="526" r="185.1" fill="#e2e2e3" stroke="#1b1a1a" stroke-width="2.9"/>
<circle cx="1879.6" cy="525.6" r="172.2" fill="none" stroke="#1b1a1a" stroke-width="2.9"/>
<path d="M1824.5 681.3 V369.8 A165 165 0 0 1 1948.4 375.8 V675.9 A165 165 0 0 1 1824.5 681.3 Z" fill="none" stroke="#1b1a1a" stroke-width="2.9"/>
<rect x="1838.3" y="403.2" width="96.1" height="245.2" fill="none" stroke="#1b1a1a" stroke-width="2.9"/>
<path d="M247 526 H2135" stroke="#1b1a1a" stroke-width="3" stroke-dasharray="57.5 9 4.5 9.25" stroke-dashoffset="14.55" fill="none"/>
<path d="M286 812.4 H476 V1192 H286 Z" fill="#e2e2e3" stroke="none"/>
<path d="M286 1076 H249 V1180.6 H276.3 V1157.1 H286 Z" fill="#e2e2e3" stroke="none"/>
<path d="M286 812.4 V1192 H476 V812.4 M286 1004.1 H476" stroke="#1b1a1a" stroke-width="3" fill="none"/>
<path d="M286 1076 H249 V1180.6 H276.3 V1157.1" fill="none" stroke="#1b1a1a" stroke-width="3"/>
<path d="M257.6 1078 V1157.1 H436.4 M450.6 1157.1 H476" stroke="#1b1a1a" stroke-width="3" fill="none"/>
<path d="M409.4 1157.1 V1077.5 H463.5 V1157.1 M421.7 1077.5 V1157.1 M436.4 1077.5 V1157.1 M450.6 1077.5 V1157.1" stroke="#1b1a1a" stroke-width="3" fill="none"/>
<path d="M425.5 1157.1 V1179.5 H454.2 V1157.1" stroke="#1b1a1a" stroke-width="3" fill="none"/>
<path d="M465.3 1179.5 H634 M491 1192.1 H634 M558.9 1057.7 H619 V1125 M619 1175 V1196 M619 1250 V1314" stroke="#1b1a1a" stroke-width="3" fill="none"/>
<path d="M619 1175.5 L604 1118.5 L634 1118.5 Z M619 1195 L604 1254 L634 1254 Z" fill="#1b1a1a"/></svg></body></html>
